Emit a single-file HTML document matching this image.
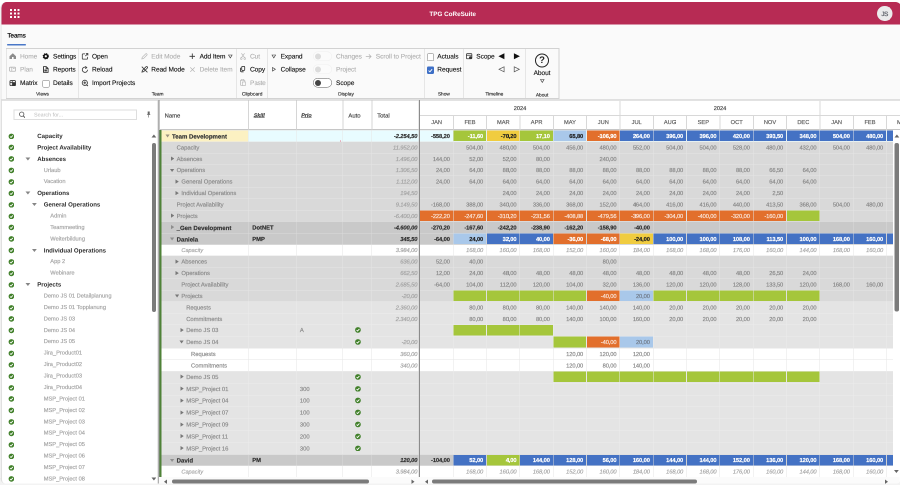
<!DOCTYPE html><html><head><meta charset="utf-8"><title>TPG CoReSuite</title><style>
*{box-sizing:border-box;margin:0;padding:0}
html,body{width:900px;height:485px;overflow:hidden;background:#fff}
body{text-rendering:geometricPrecision;font-family:"Liberation Sans",sans-serif;position:relative;color:#333;font-size:6.2px;line-height:1}
#all{position:absolute;left:0;top:0;width:1800px;height:970px;overflow:hidden;transform:scale(.5);transform-origin:0 0;will-change:transform;background:#fff}
#in{position:absolute;left:0;top:0;width:900px;height:485px;zoom:2;filter:blur(.25px)}
.abs{position:absolute}
.t{position:absolute;white-space:nowrap;line-height:10px;height:10px}
#win{position:absolute;left:.4px;top:2px;width:901px;height:481.7px;background:#fafafa;border-radius:6px 6px 5px 5px;overflow:hidden;border-left:1px solid #e2e2e2}
#hdr{position:absolute;left:-.2px;top:0;width:906px;height:22.5px;background:#b72b54}
.rb{position:absolute;top:48.2px;height:51px;border:1px solid #d2d2d2;border-left:none;background:#fafafa}
.rt{font-size:6.55px;color:#111;letter-spacing:-0.05px;-webkit-text-stroke:.12px #111}
.rt.dis{color:#b0b0b0;-webkit-text-stroke:.1px #b0b0b0}
.rl{font-size:4.8px;color:#222;text-align:center;-webkit-text-stroke:.12px #222}
.panel{position:absolute;background:#fff}
.tree{font-size:5.7px;color:#a4a4a4;-webkit-text-stroke:.16px currentColor}
.tree.b{font-weight:bold;color:#2e2e2e;font-size:6.1px;-webkit-text-stroke:0}
.row{position:absolute;left:0;width:100%}
.c{position:absolute;top:0;height:100%;border-right:.5px solid rgba(255,255,255,.3);border-top:.6px solid rgba(255,255,255,.36)}
.f{position:absolute;left:.1px;top:0;right:0;bottom:.3px}
.w .c{border-right:.5px solid #e6e6e6;border-top:.5px solid #e6e6e6}
.n{position:absolute;right:3.0px;top:.4px;white-space:nowrap;font-size:5.75px;letter-spacing:-.1px;color:#878787;-webkit-text-stroke:.16px currentColor}
.nm{position:absolute;top:.4px;white-space:nowrap;font-size:5.85px;color:#8a8a8a;-webkit-text-stroke:.16px currentColor}
.b{font-weight:bold}
.i{font-style:italic}
.hd{position:absolute;white-space:nowrap;font-size:5.7px;color:#444;-webkit-text-stroke:.16px currentColor}
</style></head><body>
<div id="all"><div id="in">
<div class="abs" style="left:0;top:478px;width:900px;height:7px;background:#f3f3f3"></div>
<div id="win">
<div id="hdr"></div>
</div>
<div class="abs" style="left:10.20px;top:9.10px;width:2px;height:2px;background:#fff;border-radius:.3px"></div>
<div class="abs" style="left:13.75px;top:9.10px;width:2px;height:2px;background:#fff;border-radius:.3px"></div>
<div class="abs" style="left:17.30px;top:9.10px;width:2px;height:2px;background:#fff;border-radius:.3px"></div>
<div class="abs" style="left:10.20px;top:12.60px;width:2px;height:2px;background:#fff;border-radius:.3px"></div>
<div class="abs" style="left:13.75px;top:12.60px;width:2px;height:2px;background:#fff;border-radius:.3px"></div>
<div class="abs" style="left:17.30px;top:12.60px;width:2px;height:2px;background:#fff;border-radius:.3px"></div>
<div class="abs" style="left:10.20px;top:16.10px;width:2px;height:2px;background:#fff;border-radius:.3px"></div>
<div class="abs" style="left:13.75px;top:16.10px;width:2px;height:2px;background:#fff;border-radius:.3px"></div>
<div class="abs" style="left:17.30px;top:16.10px;width:2px;height:2px;background:#fff;border-radius:.3px"></div>
<div class="t b" style="left:380px;width:145.4px;text-align:center;top:9.0px;color:#fff;font-size:6.3px">TPG CoReSuite</div>
<div class="abs" style="left:877px;top:5.8px;width:15.4px;height:15.4px;border-radius:50%;background:#ebebeb"></div>
<div class="t" style="left:877px;width:15.4px;text-align:center;top:8.9px;color:#5a5e66;font-size:6.3px;letter-spacing:-.35px;-webkit-text-stroke:.2px #5a5e66">JS</div>
<div class="t" style="left:7.4px;top:30.6px;font-size:6.35px;color:#111;letter-spacing:-0.08px;-webkit-text-stroke:.24px #111">Teams</div>
<div class="abs" style="left:7px;top:44.2px;width:18.8px;height:1.5px;background:#4a78c8;border-radius:1px"></div>
<div class="abs" style="left:6px;top:48.2px;width:1px;height:51px;background:#d2d2d2"></div>
<div class="rb" style="left:6.40px;width:72.70px"></div>
<div class="t rl" style="left:6.40px;width:72.20px;top:89.40px">Views</div>
<div class="rb" style="left:78.60px;width:158.60px"></div>
<div class="t rl" style="left:78.60px;width:158.10px;top:89.40px">Team</div>
<div class="rb" style="left:236.70px;width:31.40px"></div>
<div class="t rl" style="left:236.70px;width:30.90px;top:89.40px">Clipboard</div>
<div class="rb" style="left:267.60px;width:157.30px"></div>
<div class="t rl" style="left:267.60px;width:156.80px;top:89.40px">Display</div>
<div class="rb" style="left:424.40px;width:39.40px"></div>
<div class="t rl" style="left:424.40px;width:38.90px;top:89.40px">Show</div>
<div class="rb" style="left:463.30px;width:62.60px"></div>
<div class="t rl" style="left:463.30px;width:62.10px;top:89.40px">Timeline</div>
<div class="rb" style="left:525.40px;width:33.90px"></div>
<div class="t rl" style="left:525.40px;width:33.40px;top:90.30px">About</div>
<svg class="abs" style="left:9.50px;top:53.00px;" width="6.6" height="6" viewBox="0 0 6.6 6"><path d="M0 3.3L3.3 .2l3.3 3.1v2.7H4.1V4H2.5v2H0z" fill="#8c8c8c"/></svg>
<div class="t rt dis" style="left:20.00px;top:51.50px;">Home</div>
<svg class="abs" style="left:9.20px;top:66.60px;" width="7" height="5.4" viewBox="0 0 8 5.6"><rect x=".5" y=".5" width="7" height="4.6" rx="1" fill="none" stroke="#b5b5b5" stroke-width=".9"/><path d="M3.2.5v4.6M4.6 2h1.8" stroke="#b5b5b5" stroke-width=".8"/></svg>
<div class="t rt dis" style="left:20.00px;top:64.60px;">Plan</div>
<svg class="abs" style="left:9.60px;top:79.80px;" width="6.6" height="6.4" viewBox="0 0 7.2 6.8"><rect x=".5" y=".5" width="6" height="5.6" rx="1" fill="none" stroke="#333" stroke-width=".9"/><path d="M.5 2.6h6M3 .5v5.6" stroke="#333" stroke-width=".8"/><rect x="3.4" y="3" width="3.4" height="3.2" fill="#333"/></svg>
<div class="t rt" style="left:20.00px;top:78.10px;">Matrix</div>
<svg class="abs" style="left:42.60px;top:53.00px;" width="6.6" height="6.6" viewBox="0 0 8 8"><circle cx="4" cy="4" r="2.3" fill="none" stroke="#111" stroke-width="1.9"/><circle cx="4" cy="4" r="3.3" fill="none" stroke="#111" stroke-width="1.1" stroke-dasharray="1.3 1.3"/></svg>
<div class="t rt" style="left:53.00px;top:51.50px;">Settings</div>
<svg class="abs" style="left:43.20px;top:66.00px;" width="5.6" height="7" viewBox="0 0 6.6 8"><path d="M.6.6h3.2l2.2 2.2v4.6H.6z" fill="none" stroke="#222" stroke-width="1"/><path d="M3.6.6v2.4h2.4" fill="none" stroke="#222" stroke-width=".8"/><rect x="1.6" y="4" width="3" height="2.4" fill="#444"/></svg>
<div class="t rt" style="left:53.00px;top:64.60px;">Reports</div>
<div class="abs" style="left:42.4px;top:80.0px;width:7.2px;height:7.4px;border:.8px solid #707070;border-radius:1.2px;background:#fff"></div>
<div class="t rt" style="left:53.00px;top:78.10px;">Details</div>
<svg class="abs" style="left:81.60px;top:53.00px;" width="7" height="6.8" viewBox="0 0 8 8"><path d="M4 1H1.6a.8.8 0 0 0-.8.8v4.6a.8.8 0 0 0 .8.8h4.6a.8.8 0 0 0 .8-.8V4.6" fill="none" stroke="#333" stroke-width=".9"/><path d="M5 .6h2.4V3M7.2.8L4.4 3.6" fill="none" stroke="#333" stroke-width=".9"/></svg>
<div class="t rt" style="left:92.00px;top:51.50px;">Open</div>
<svg class="abs" style="left:81.50px;top:65.80px;" width="7" height="7.2" viewBox="0 0 8 8"><path d="M6.9 4.2A3 3 0 1 1 5.6 1.7" fill="none" stroke="#333" stroke-width=".9"/><path d="M4.4.2l1.7 1.6-1.9 1.1" fill="none" stroke="#333" stroke-width=".85"/></svg>
<div class="t rt" style="left:92.00px;top:64.60px;">Reload</div>
<svg class="abs" style="left:81.60px;top:79.40px;" width="7" height="7" viewBox="0 0 8 8"><circle cx="3.8" cy="3.8" r="3" fill="none" stroke="#333" stroke-width=".9"/><path d="M3.8 2.2v3.2M2.2 3.8h3.2" stroke="#333" stroke-width=".9"/><path d="M5.6 6l1.8 1.4" stroke="#333" stroke-width="1"/></svg>
<div class="t rt" style="left:92.00px;top:78.10px;">Import Projects</div>
<svg class="abs" style="left:141.20px;top:52.80px;" width="6.6" height="7" viewBox="0 0 8 8"><path d="M1 7l.5-2L5.7.8a.8.8 0 0 1 1.2 0l.3.3a.8.8 0 0 1 0 1.2L3 6.5z" fill="none" stroke="#b5b5b5" stroke-width=".8"/></svg>
<div class="t rt dis" style="left:151.30px;top:51.50px;">Edit Mode</div>
<svg class="abs" style="left:141.00px;top:66.00px;" width="7.2" height="7" viewBox="0 0 8 8"><path d="M1 7l.5-2L5.7.8a.8.8 0 0 1 1.2 0l.3.3a.8.8 0 0 1 0 1.2L3 6.5z" fill="none" stroke="#333" stroke-width=".9"/><path d="M.8.8l6.4 6.4" stroke="#333" stroke-width=".9"/></svg>
<div class="t rt" style="left:151.30px;top:64.60px;">Read Mode</div>
<svg class="abs" style="left:189.60px;top:53.40px;" width="5.6" height="5.6" viewBox="0 0 6 6"><path d="M3 0v6M0 3h6" stroke="#333" stroke-width=".9"/></svg>
<div class="t rt" style="left:199.60px;top:51.50px;">Add Item</div>
<svg class="abs" style="left:228.20px;top:54.70px;" width="4.6" height="3.9" viewBox="0 0 4.6 3.9"><path d="M.5.5h3.6L2.3 3.4z" fill="none" stroke="#333" stroke-width=".6"/></svg>
<svg class="abs" style="left:190.00px;top:66.80px;" width="5" height="5.2" viewBox="0 0 6 6"><path d="M.3.3l5.4 5.4M5.7.3L.3 5.7" stroke="#b5b5b5" stroke-width=".8"/></svg>
<div class="t rt dis" style="left:199.60px;top:64.60px;">Delete Item</div>
<svg class="abs" style="left:240.00px;top:52.80px;" width="6" height="7" viewBox="0 0 6.8 8"><path d="M1.6.4l3.6 5M5.2.4L1.6 5.4" stroke="#b5b5b5" stroke-width=".8"/><circle cx="1.4" cy="6.4" r="1" fill="none" stroke="#b5b5b5" stroke-width=".7"/><circle cx="5.4" cy="6.4" r="1" fill="none" stroke="#b5b5b5" stroke-width=".7"/></svg>
<div class="t rt dis" style="left:250.00px;top:51.50px;">Cut</div>
<svg class="abs" style="left:240.20px;top:66.20px;" width="5.2" height="6.2" viewBox="0 0 5.2 6.4"><rect x="1.7" y=".4" width="3.1" height="4.2" rx=".8" fill="none" stroke="#222" stroke-width=".8"/><path d="M.5 1.8v3.4a.8.8 0 0 0 .8.8H3.6" fill="none" stroke="#222" stroke-width=".8"/></svg>
<div class="t rt" style="left:250.00px;top:64.60px;">Copy</div>
<svg class="abs" style="left:240.00px;top:79.20px;" width="6" height="7" viewBox="0 0 6.8 8"><rect x=".5" y="1.2" width="5" height="6" rx=".7" fill="none" stroke="#b5b5b5" stroke-width=".8"/><rect x="1.8" y=".3" width="2.4" height="1.6" fill="#fafafa" stroke="#b5b5b5" stroke-width=".6"/><rect x="2.6" y="3.4" width="3.6" height="4" fill="#fafafa" stroke="#b5b5b5" stroke-width=".7"/></svg>
<div class="t rt dis" style="left:250.00px;top:78.10px;letter-spacing:-.25px">Paste</div>
<svg class="abs" style="left:271.40px;top:54.50px;" width="4.6" height="3.9" viewBox="0 0 4.6 3.9"><path d="M.5.5h3.6L2.3 3.4z" fill="none" stroke="#333" stroke-width=".6"/></svg>
<div class="t rt" style="left:280.60px;top:51.50px;">Expand</div>
<svg class="abs" style="left:272.00px;top:67.00px;" width="3.9" height="4.6" viewBox="0 0 3.9 4.6"><path d="M.5.5v3.6L3.4 2.3z" fill="none" stroke="#333" stroke-width=".6"/></svg>
<div class="t rt" style="left:280.60px;top:64.60px;">Collapse</div>
<div class="abs" style="left:313.2px;top:51.70px;width:18.6px;height:9.4px;border-radius:5px;border:.9px solid #f0f0f0;background:#fbfbfb"></div>
<div class="abs" style="left:315.2px;top:53.40px;width:6px;height:6px;border-radius:50%;background:#dcdcdc"></div>
<div class="abs" style="left:313.2px;top:64.70px;width:18.6px;height:9.4px;border-radius:5px;border:.9px solid #f0f0f0;background:#fbfbfb"></div>
<div class="abs" style="left:315.2px;top:66.40px;width:6px;height:6px;border-radius:50%;background:#dcdcdc"></div>
<div class="abs" style="left:313.2px;top:78.10px;width:18.6px;height:9.4px;border-radius:5px;border:.9px solid #555;background:#fff"></div>
<div class="abs" style="left:315.2px;top:79.80px;width:6px;height:6px;border-radius:50%;background:#444"></div>
<div class="t rt dis" style="left:336.00px;top:51.50px;">Changes</div>
<div class="t rt dis" style="left:336.00px;top:64.60px;">Project</div>
<div class="t rt" style="left:336.00px;top:78.10px;">Scope</div>
<svg class="abs" style="left:365.60px;top:53.80px;" width="6" height="5" viewBox="0 0 6 5"><path d="M.3 2.5h5.2M3.4.4l2.2 2.1-2.2 2.1" fill="none" stroke="#b5b5b5" stroke-width=".8"/></svg>
<div class="t rt dis" style="left:375.80px;top:51.50px;">Scroll to Project</div>
<div class="abs" style="left:426.8px;top:53.4px;width:7.4px;height:7.6px;border:.8px solid #707070;border-radius:1.2px;background:#fff"></div>
<div class="t rt" style="left:437.30px;top:51.50px;">Actuals</div>
<div class="abs" style="left:426.8px;top:66.6px;width:7.4px;height:7.6px;border-radius:1.2px;background:#3d6fc6"></div>
<svg class="abs" style="left:428.20px;top:68.40px;" width="4.8" height="4" viewBox="0 0 5 4.2"><path d="M.6 2.2l1.4 1.3L4.3.7" fill="none" stroke="#fff" stroke-width=".9"/></svg>
<div class="t rt" style="left:437.30px;top:64.60px;">Request</div>
<svg class="abs" style="left:466.20px;top:53.00px;" width="6.8" height="6.8" viewBox="0 0 8 8"><rect x=".5" y=".8" width="6.4" height="6" rx=".8" fill="none" stroke="#333" stroke-width=".9"/><path d="M.5 2.6h6.4" stroke="#333" stroke-width=".9"/><circle cx="5.2" cy="5.4" r="1.6" fill="#333"/></svg>
<div class="t rt" style="left:476.30px;top:51.50px;">Scope</div>
<svg class="abs" style="left:498.20px;top:53.20px;" width="6.8" height="6.6" viewBox="0 0 6.8 6.6"><path d="M6.4.3v6L.4 3.3z" fill="#111"/></svg>
<svg class="abs" style="left:513.40px;top:53.20px;" width="6.8" height="6.6" viewBox="0 0 6.8 6.6"><path d="M.4.3v6l6-3z" fill="#111"/></svg>
<svg class="abs" style="left:498.20px;top:66.20px;" width="6.8" height="6.6" viewBox="0 0 6.8 6.6"><path d="M6.1.8v5L1 3.3z" fill="none" stroke="#555" stroke-width=".7"/></svg>
<svg class="abs" style="left:513.40px;top:66.20px;" width="6.8" height="6.6" viewBox="0 0 6.8 6.6"><path d="M.7.8v5l5.1-2.5z" fill="none" stroke="#555" stroke-width=".7"/></svg>
<div class="abs" style="left:535px;top:53.3px;width:14px;height:14px;border-radius:50%;border:1.1px solid #222"></div>
<div class="t" style="left:535px;width:14px;text-align:center;top:55.3px;font-size:9.5px;color:#222;font-weight:bold">?</div>
<div class="t rt" style="left:527px;width:30px;text-align:center;top:68.2px">About</div>
<svg class="abs" style="left:539.80px;top:79.20px;" width="4.6" height="3.9" viewBox="0 0 4.6 3.9"><path d="M.5.5h3.6L2.3 3.4z" fill="none" stroke="#333" stroke-width=".6"/></svg>
<div class="panel" style="left:1px;top:99.6px;width:156.4px;height:384.1px;border-top:1px solid #c6c6c6;border-left:1px solid #e0e0e0;border-radius:0 0 0 4px"></div>
<div class="abs" style="left:13.6px;top:109.6px;width:123.4px;height:10.2px;border:1px solid #dedede;background:#fff"></div>
<svg class="abs" style="left:18.80px;top:111.40px;" width="6.4" height="6.6" viewBox="0 0 6.4 6.6"><circle cx="2.7" cy="2.7" r="2.2" fill="none" stroke="#555" stroke-width=".8"/><path d="M4.3 4.4l1.8 1.9" stroke="#555" stroke-width=".9"/></svg>
<div class="t" style="left:34px;top:109.8px;font-size:5.4px;color:#bdbdbd">Search for...</div>
<svg class="abs" style="left:146.60px;top:110.80px;" width="4.4" height="6.8" viewBox="0 0 4.4 6.8"><path d="M1.2.5h2v2.4l.9 1H.3l.9-1z" fill="#666"/><path d="M2.2 3.9v2.6" stroke="#666" stroke-width=".6"/></svg>
<svg class="abs" style="left:8.30px;top:133.30px;" width="5.8" height="5.8" viewBox="0 0 6 6"><circle cx="3" cy="3" r="2.9" fill="#41802a"/><path d="M1.6 3.1l1 1L4.5 2" fill="none" stroke="#fff" stroke-width=".9"/></svg>
<div class="t tree b" style="left:37.20px;top:131.00px">Capacity</div>
<svg class="abs" style="left:8.30px;top:144.73px;" width="5.8" height="5.8" viewBox="0 0 6 6"><circle cx="3" cy="3" r="2.9" fill="#41802a"/><path d="M1.6 3.1l1 1L4.5 2" fill="none" stroke="#fff" stroke-width=".9"/></svg>
<div class="t tree b" style="left:37.20px;top:142.43px">Project Availability</div>
<svg class="abs" style="left:8.30px;top:156.16px;" width="5.8" height="5.8" viewBox="0 0 6 6"><circle cx="3" cy="3" r="2.9" fill="#41802a"/><path d="M1.6 3.1l1 1L4.5 2" fill="none" stroke="#fff" stroke-width=".9"/></svg>
<svg class="abs" style="left:25.60px;top:157.36px;" width="4.8" height="3" viewBox="0 0 4.8 3"><path d="M0 0h4.8L2.4 3z" fill="#858585"/></svg>
<div class="t tree b" style="left:37.20px;top:153.86px">Absences</div>
<svg class="abs" style="left:8.30px;top:167.59px;" width="5.8" height="5.8" viewBox="0 0 6 6"><circle cx="3" cy="3" r="2.9" fill="#41802a"/><path d="M1.6 3.1l1 1L4.5 2" fill="none" stroke="#fff" stroke-width=".9"/></svg>
<div class="t tree" style="left:43.75px;top:165.29px">Urlaub</div>
<svg class="abs" style="left:8.30px;top:179.02px;" width="5.8" height="5.8" viewBox="0 0 6 6"><circle cx="3" cy="3" r="2.9" fill="#41802a"/><path d="M1.6 3.1l1 1L4.5 2" fill="none" stroke="#fff" stroke-width=".9"/></svg>
<div class="t tree" style="left:43.75px;top:176.72px">Vacation</div>
<svg class="abs" style="left:8.30px;top:190.45px;" width="5.8" height="5.8" viewBox="0 0 6 6"><circle cx="3" cy="3" r="2.9" fill="#41802a"/><path d="M1.6 3.1l1 1L4.5 2" fill="none" stroke="#fff" stroke-width=".9"/></svg>
<svg class="abs" style="left:25.60px;top:191.65px;" width="4.8" height="3" viewBox="0 0 4.8 3"><path d="M0 0h4.8L2.4 3z" fill="#858585"/></svg>
<div class="t tree b" style="left:37.20px;top:188.15px">Operations</div>
<svg class="abs" style="left:8.30px;top:201.88px;" width="5.8" height="5.8" viewBox="0 0 6 6"><circle cx="3" cy="3" r="2.9" fill="#41802a"/><path d="M1.6 3.1l1 1L4.5 2" fill="none" stroke="#fff" stroke-width=".9"/></svg>
<svg class="abs" style="left:32.15px;top:203.08px;" width="4.8" height="3" viewBox="0 0 4.8 3"><path d="M0 0h4.8L2.4 3z" fill="#858585"/></svg>
<div class="t tree b" style="left:43.75px;top:199.58px">General Operations</div>
<svg class="abs" style="left:8.30px;top:213.31px;" width="5.8" height="5.8" viewBox="0 0 6 6"><circle cx="3" cy="3" r="2.9" fill="#41802a"/><path d="M1.6 3.1l1 1L4.5 2" fill="none" stroke="#fff" stroke-width=".9"/></svg>
<div class="t tree" style="left:50.30px;top:211.01px">Admin</div>
<svg class="abs" style="left:8.30px;top:224.74px;" width="5.8" height="5.8" viewBox="0 0 6 6"><circle cx="3" cy="3" r="2.9" fill="#41802a"/><path d="M1.6 3.1l1 1L4.5 2" fill="none" stroke="#fff" stroke-width=".9"/></svg>
<div class="t tree" style="left:50.30px;top:222.44px">Teammeeting</div>
<svg class="abs" style="left:8.30px;top:236.17px;" width="5.8" height="5.8" viewBox="0 0 6 6"><circle cx="3" cy="3" r="2.9" fill="#41802a"/><path d="M1.6 3.1l1 1L4.5 2" fill="none" stroke="#fff" stroke-width=".9"/></svg>
<div class="t tree" style="left:50.30px;top:233.87px">Weiterbildung</div>
<svg class="abs" style="left:8.30px;top:247.60px;" width="5.8" height="5.8" viewBox="0 0 6 6"><circle cx="3" cy="3" r="2.9" fill="#41802a"/><path d="M1.6 3.1l1 1L4.5 2" fill="none" stroke="#fff" stroke-width=".9"/></svg>
<svg class="abs" style="left:32.15px;top:248.80px;" width="4.8" height="3" viewBox="0 0 4.8 3"><path d="M0 0h4.8L2.4 3z" fill="#858585"/></svg>
<div class="t tree b" style="left:43.75px;top:245.30px">Individual Operations</div>
<svg class="abs" style="left:8.30px;top:259.03px;" width="5.8" height="5.8" viewBox="0 0 6 6"><circle cx="3" cy="3" r="2.9" fill="#41802a"/><path d="M1.6 3.1l1 1L4.5 2" fill="none" stroke="#fff" stroke-width=".9"/></svg>
<div class="t tree" style="left:50.30px;top:256.73px">App 2</div>
<svg class="abs" style="left:8.30px;top:270.46px;" width="5.8" height="5.8" viewBox="0 0 6 6"><circle cx="3" cy="3" r="2.9" fill="#41802a"/><path d="M1.6 3.1l1 1L4.5 2" fill="none" stroke="#fff" stroke-width=".9"/></svg>
<div class="t tree" style="left:50.30px;top:268.16px">Webinare</div>
<svg class="abs" style="left:8.30px;top:281.89px;" width="5.8" height="5.8" viewBox="0 0 6 6"><circle cx="3" cy="3" r="2.9" fill="#41802a"/><path d="M1.6 3.1l1 1L4.5 2" fill="none" stroke="#fff" stroke-width=".9"/></svg>
<svg class="abs" style="left:25.60px;top:283.09px;" width="4.8" height="3" viewBox="0 0 4.8 3"><path d="M0 0h4.8L2.4 3z" fill="#858585"/></svg>
<div class="t tree b" style="left:37.20px;top:279.59px">Projects</div>
<svg class="abs" style="left:8.30px;top:293.32px;" width="5.8" height="5.8" viewBox="0 0 6 6"><circle cx="3" cy="3" r="2.9" fill="#41802a"/><path d="M1.6 3.1l1 1L4.5 2" fill="none" stroke="#fff" stroke-width=".9"/></svg>
<div class="t tree" style="left:43.75px;top:291.02px">Demo JS 01 Detailplanung</div>
<svg class="abs" style="left:8.30px;top:304.75px;" width="5.8" height="5.8" viewBox="0 0 6 6"><circle cx="3" cy="3" r="2.9" fill="#41802a"/><path d="M1.6 3.1l1 1L4.5 2" fill="none" stroke="#fff" stroke-width=".9"/></svg>
<div class="t tree" style="left:43.75px;top:302.45px">Demo JS 01 Topplanung</div>
<svg class="abs" style="left:8.30px;top:316.18px;" width="5.8" height="5.8" viewBox="0 0 6 6"><circle cx="3" cy="3" r="2.9" fill="#41802a"/><path d="M1.6 3.1l1 1L4.5 2" fill="none" stroke="#fff" stroke-width=".9"/></svg>
<div class="t tree" style="left:43.75px;top:313.88px">Demo JS 03</div>
<svg class="abs" style="left:8.30px;top:327.61px;" width="5.8" height="5.8" viewBox="0 0 6 6"><circle cx="3" cy="3" r="2.9" fill="#41802a"/><path d="M1.6 3.1l1 1L4.5 2" fill="none" stroke="#fff" stroke-width=".9"/></svg>
<div class="t tree" style="left:43.75px;top:325.31px">Demo JS 04</div>
<svg class="abs" style="left:8.30px;top:339.04px;" width="5.8" height="5.8" viewBox="0 0 6 6"><circle cx="3" cy="3" r="2.9" fill="#41802a"/><path d="M1.6 3.1l1 1L4.5 2" fill="none" stroke="#fff" stroke-width=".9"/></svg>
<div class="t tree" style="left:43.75px;top:336.74px">Demo JS 05</div>
<svg class="abs" style="left:8.30px;top:350.47px;" width="5.8" height="5.8" viewBox="0 0 6 6"><circle cx="3" cy="3" r="2.9" fill="#41802a"/><path d="M1.6 3.1l1 1L4.5 2" fill="none" stroke="#fff" stroke-width=".9"/></svg>
<div class="t tree" style="left:43.75px;top:348.17px">Jira_Product01</div>
<svg class="abs" style="left:8.30px;top:361.90px;" width="5.8" height="5.8" viewBox="0 0 6 6"><circle cx="3" cy="3" r="2.9" fill="#41802a"/><path d="M1.6 3.1l1 1L4.5 2" fill="none" stroke="#fff" stroke-width=".9"/></svg>
<div class="t tree" style="left:43.75px;top:359.60px">Jira_Product02</div>
<svg class="abs" style="left:8.30px;top:373.33px;" width="5.8" height="5.8" viewBox="0 0 6 6"><circle cx="3" cy="3" r="2.9" fill="#41802a"/><path d="M1.6 3.1l1 1L4.5 2" fill="none" stroke="#fff" stroke-width=".9"/></svg>
<div class="t tree" style="left:43.75px;top:371.03px">Jira_Product03</div>
<svg class="abs" style="left:8.30px;top:384.76px;" width="5.8" height="5.8" viewBox="0 0 6 6"><circle cx="3" cy="3" r="2.9" fill="#41802a"/><path d="M1.6 3.1l1 1L4.5 2" fill="none" stroke="#fff" stroke-width=".9"/></svg>
<div class="t tree" style="left:43.75px;top:382.46px">Jira_Product04</div>
<svg class="abs" style="left:8.30px;top:396.19px;" width="5.8" height="5.8" viewBox="0 0 6 6"><circle cx="3" cy="3" r="2.9" fill="#41802a"/><path d="M1.6 3.1l1 1L4.5 2" fill="none" stroke="#fff" stroke-width=".9"/></svg>
<div class="t tree" style="left:43.75px;top:393.89px">MSP_Project 01</div>
<svg class="abs" style="left:8.30px;top:407.62px;" width="5.8" height="5.8" viewBox="0 0 6 6"><circle cx="3" cy="3" r="2.9" fill="#41802a"/><path d="M1.6 3.1l1 1L4.5 2" fill="none" stroke="#fff" stroke-width=".9"/></svg>
<div class="t tree" style="left:43.75px;top:405.32px">MSP_Project 02</div>
<svg class="abs" style="left:8.30px;top:419.05px;" width="5.8" height="5.8" viewBox="0 0 6 6"><circle cx="3" cy="3" r="2.9" fill="#41802a"/><path d="M1.6 3.1l1 1L4.5 2" fill="none" stroke="#fff" stroke-width=".9"/></svg>
<div class="t tree" style="left:43.75px;top:416.75px">MSP_Project 03</div>
<svg class="abs" style="left:8.30px;top:430.48px;" width="5.8" height="5.8" viewBox="0 0 6 6"><circle cx="3" cy="3" r="2.9" fill="#41802a"/><path d="M1.6 3.1l1 1L4.5 2" fill="none" stroke="#fff" stroke-width=".9"/></svg>
<div class="t tree" style="left:43.75px;top:428.18px">MSP_Project 04</div>
<svg class="abs" style="left:8.30px;top:441.91px;" width="5.8" height="5.8" viewBox="0 0 6 6"><circle cx="3" cy="3" r="2.9" fill="#41802a"/><path d="M1.6 3.1l1 1L4.5 2" fill="none" stroke="#fff" stroke-width=".9"/></svg>
<div class="t tree" style="left:43.75px;top:439.61px">MSP_Project 05</div>
<svg class="abs" style="left:8.30px;top:453.34px;" width="5.8" height="5.8" viewBox="0 0 6 6"><circle cx="3" cy="3" r="2.9" fill="#41802a"/><path d="M1.6 3.1l1 1L4.5 2" fill="none" stroke="#fff" stroke-width=".9"/></svg>
<div class="t tree" style="left:43.75px;top:451.04px">MSP_Project 06</div>
<svg class="abs" style="left:8.30px;top:464.77px;" width="5.8" height="5.8" viewBox="0 0 6 6"><circle cx="3" cy="3" r="2.9" fill="#41802a"/><path d="M1.6 3.1l1 1L4.5 2" fill="none" stroke="#fff" stroke-width=".9"/></svg>
<div class="t tree" style="left:43.75px;top:462.47px">MSP_Project 07</div>
<svg class="abs" style="left:8.30px;top:476.20px;" width="5.8" height="5.8" viewBox="0 0 6 6"><circle cx="3" cy="3" r="2.9" fill="#41802a"/><path d="M1.6 3.1l1 1L4.5 2" fill="none" stroke="#fff" stroke-width=".9"/></svg>
<div class="t tree" style="left:43.75px;top:473.90px">MSP_Project 08</div>
<svg class="abs" style="left:151.60px;top:134.60px;" width="4.8" height="3" viewBox="0 0 4.8 3"><path d="M0 3h4.8L2.4 0z" fill="#666"/></svg>
<div class="abs" style="left:152.2px;top:143.2px;width:3.8px;height:168.6px;border-radius:2px;background:#7b7b7b"></div>
<svg class="abs" style="left:151.40px;top:477.30px;" width="4.8" height="3" viewBox="0 0 4.8 3"><path d="M0 0h4.8L2.4 3z" fill="#666"/></svg>
<div class="panel" style="left:157.20px;top:99.6px;width:742.80px;height:384.1px;border-top:1px solid #c6c6c6;border-radius:0 0 4px 0"></div>
<div class="abs" style="left:157.3px;top:100.2px;width:1.1px;height:383.5px;background:#d2d2d2"></div>
<div class="abs" style="left:158.3px;top:100.2px;width:1px;height:383.5px;background:#8c8c8c"></div>
<div class="abs" style="left:159.7px;top:130px;width:1.7px;height:347.2px;background:#4f8238"></div>
<div class="abs" style="left:159.2px;top:129.1px;width:741px;height:1px;background:#c6c6c6"></div>
<div class="abs" style="left:248.20px;top:100.6px;width:1px;height:28.8px;background:#d6d6d6"></div>
<div class="abs" style="left:295.80px;top:100.6px;width:1px;height:28.8px;background:#d6d6d6"></div>
<div class="abs" style="left:342.70px;top:100.6px;width:1px;height:28.8px;background:#d6d6d6"></div>
<div class="abs" style="left:371.60px;top:100.6px;width:1px;height:28.8px;background:#d6d6d6"></div>
<div class="hd" style="left:164.6px;top:113.0px;font-size:5.9px">Name</div>
<div class="hd b i" style="left:253.6px;top:113.0px;text-decoration:underline;font-size:5.4px;color:#444">Skill</div>
<div class="hd b i" style="left:301.2px;top:113.0px;text-decoration:underline;font-size:5.4px;color:#444">Prio</div>
<div class="hd" style="left:348.4px;top:113.0px;font-size:5.9px">Auto</div>
<div class="hd" style="left:377.2px;top:113.0px;font-size:5.9px">Total</div>
<div class="abs" style="left:420px;top:115px;width:480px;height:1px;background:#d8d8d8"></div>
<div class="abs" style="left:452.83px;top:115.40px;width:1px;height:14.00px;background:#d8d8d8"></div>
<div class="abs" style="left:486.17px;top:115.40px;width:1px;height:14.00px;background:#d8d8d8"></div>
<div class="abs" style="left:519.50px;top:115.40px;width:1px;height:14.00px;background:#d8d8d8"></div>
<div class="abs" style="left:552.83px;top:115.40px;width:1px;height:14.00px;background:#d8d8d8"></div>
<div class="abs" style="left:586.17px;top:115.40px;width:1px;height:14.00px;background:#d8d8d8"></div>
<div class="abs" style="left:619.50px;top:100.60px;width:1px;height:28.80px;background:#d8d8d8"></div>
<div class="abs" style="left:652.83px;top:115.40px;width:1px;height:14.00px;background:#d8d8d8"></div>
<div class="abs" style="left:686.17px;top:115.40px;width:1px;height:14.00px;background:#d8d8d8"></div>
<div class="abs" style="left:719.50px;top:115.40px;width:1px;height:14.00px;background:#d8d8d8"></div>
<div class="abs" style="left:752.83px;top:115.40px;width:1px;height:14.00px;background:#d8d8d8"></div>
<div class="abs" style="left:786.17px;top:115.40px;width:1px;height:14.00px;background:#d8d8d8"></div>
<div class="abs" style="left:819.50px;top:100.60px;width:1px;height:28.80px;background:#d8d8d8"></div>
<div class="abs" style="left:852.83px;top:115.40px;width:1px;height:14.00px;background:#d8d8d8"></div>
<div class="abs" style="left:886.17px;top:115.40px;width:1px;height:14.00px;background:#d8d8d8"></div>
<div class="hd" style="left:420px;width:200px;text-align:center;top:106.0px;font-size:5.6px">2024</div>
<div class="hd" style="left:620px;width:200px;text-align:center;top:106.0px;font-size:5.6px">2024</div>
<div class="hd" style="left:420.00px;width:33.33px;text-align:center;top:120.2px;font-size:5.7px;color:#5a5a5a">JAN</div>
<div class="hd" style="left:453.33px;width:33.33px;text-align:center;top:120.2px;font-size:5.7px;color:#5a5a5a">FEB</div>
<div class="hd" style="left:486.67px;width:33.33px;text-align:center;top:120.2px;font-size:5.7px;color:#5a5a5a">MAR</div>
<div class="hd" style="left:520.00px;width:33.33px;text-align:center;top:120.2px;font-size:5.7px;color:#5a5a5a">APR</div>
<div class="hd" style="left:553.33px;width:33.33px;text-align:center;top:120.2px;font-size:5.7px;color:#5a5a5a">MAY</div>
<div class="hd" style="left:586.67px;width:33.33px;text-align:center;top:120.2px;font-size:5.7px;color:#5a5a5a">JUN</div>
<div class="hd" style="left:620.00px;width:33.33px;text-align:center;top:120.2px;font-size:5.7px;color:#5a5a5a">JUL</div>
<div class="hd" style="left:653.33px;width:33.33px;text-align:center;top:120.2px;font-size:5.7px;color:#5a5a5a">AUG</div>
<div class="hd" style="left:686.67px;width:33.33px;text-align:center;top:120.2px;font-size:5.7px;color:#5a5a5a">SEP</div>
<div class="hd" style="left:720.00px;width:33.33px;text-align:center;top:120.2px;font-size:5.7px;color:#5a5a5a">OCT</div>
<div class="hd" style="left:753.33px;width:33.33px;text-align:center;top:120.2px;font-size:5.7px;color:#5a5a5a">NOV</div>
<div class="hd" style="left:786.67px;width:33.33px;text-align:center;top:120.2px;font-size:5.7px;color:#5a5a5a">DEC</div>
<div class="hd" style="left:820.00px;width:33.33px;text-align:center;top:120.2px;font-size:5.7px;color:#5a5a5a">JAN</div>
<div class="hd" style="left:853.33px;width:33.33px;text-align:center;top:120.2px;font-size:5.7px;color:#5a5a5a">FEB</div>
<div class="hd" style="left:886.67px;width:33.33px;text-align:center;top:120.2px;font-size:5.7px;color:#5a5a5a">MAR</div>
<div class="abs" style="left:161.50px;top:130px;width:731.50px;height:347.4px;overflow:hidden;font-size:5.8px">
<div class="row w" style="top:0.00px;height:11.43px;background:#e8fcff">
<div class="c" style="left:0;width:87.20px;background:#fcf1c2;">
<svg class="abs" style="left:4.00px;top:4.00px" width="4.2" height="3" viewBox="0 0 4.2 3"><path d="M0 0h4.2L2.1 3z" fill="#9a9280"/></svg>
<div class="nm b" style="left:10.50px;line-height:11.43px;color:#343434;font-size:6.05px;">Team Development</div>
</div>
<div class="c" style="left:87.20px;width:47.60px">
</div>
<div class="c" style="left:134.80px;width:46.90px">
</div>
<div class="c" style="left:181.70px;width:28.90px">
</div>
<div class="c" style="left:210.60px;width:46.50px;border-right:none">
<div class="n b i" style="right:1.3px;line-height:11.43px;color:#2e2e2e">-2.254,50</div>
</div>
<div class="c" style="left:258.50px;width:33.33px;">
<div class="n b" style="line-height:11.43px;color:#2e2e2e;">-558,20</div>
</div>
<div class="c" style="left:291.83px;width:33.33px;">
<div class="f" style="background:#a5c63b"></div>
<div class="n b" style="line-height:11.43px;color:#fff;">-11,60</div>
</div>
<div class="c" style="left:325.17px;width:33.33px;">
<div class="f" style="background:#f0cc40"></div>
<div class="n b" style="line-height:11.43px;color:#222;">-70,20</div>
</div>
<div class="c" style="left:358.50px;width:33.33px;">
<div class="f" style="background:#a5c63b"></div>
<div class="n b" style="line-height:11.43px;color:#fff;">17,10</div>
</div>
<div class="c" style="left:391.83px;width:33.33px;">
<div class="f" style="background:#a9c8ea"></div>
<div class="n b" style="line-height:11.43px;color:#222;">65,80</div>
</div>
<div class="c" style="left:425.17px;width:33.33px;">
<div class="f" style="background:#e26f2c"></div>
<div class="n b" style="line-height:11.43px;color:#fff;">-106,90</div>
</div>
<div class="c" style="left:458.50px;width:33.33px;">
<div class="f" style="background:#4472c4"></div>
<div class="n b" style="line-height:11.43px;color:#fff;">264,00</div>
</div>
<div class="c" style="left:491.83px;width:33.33px;">
<div class="f" style="background:#4472c4"></div>
<div class="n b" style="line-height:11.43px;color:#fff;">396,00</div>
</div>
<div class="c" style="left:525.17px;width:33.33px;">
<div class="f" style="background:#4472c4"></div>
<div class="n b" style="line-height:11.43px;color:#fff;">396,00</div>
</div>
<div class="c" style="left:558.50px;width:33.33px;">
<div class="f" style="background:#4472c4"></div>
<div class="n b" style="line-height:11.43px;color:#fff;">420,00</div>
</div>
<div class="c" style="left:591.83px;width:33.33px;">
<div class="f" style="background:#4472c4"></div>
<div class="n b" style="line-height:11.43px;color:#fff;">393,50</div>
</div>
<div class="c" style="left:625.17px;width:33.33px;">
<div class="f" style="background:#4472c4"></div>
<div class="n b" style="line-height:11.43px;color:#fff;">348,00</div>
</div>
<div class="c" style="left:658.50px;width:33.33px;">
<div class="f" style="background:#4472c4"></div>
<div class="n b" style="line-height:11.43px;color:#fff;">504,00</div>
</div>
<div class="c" style="left:691.83px;width:33.33px;">
<div class="f" style="background:#4472c4"></div>
<div class="n b" style="line-height:11.43px;color:#fff;">480,00</div>
</div>
<div class="c" style="left:725.17px;width:33.33px;">
<div class="f" style="background:#4472c4"></div>
</div>
</div>
<div class="row" style="top:11.43px;height:11.43px;background:#d9d9d9">
<div class="c" style="left:0;width:87.20px;">
<div class="nm" style="left:15.10px;line-height:11.43px;">Capacity</div>
</div>
<div class="c" style="left:87.20px;width:47.60px">
</div>
<div class="c" style="left:134.80px;width:46.90px">
</div>
<div class="c" style="left:181.70px;width:28.90px">
</div>
<div class="c" style="left:210.60px;width:46.50px;border-right:none">
<div class="n i" style="right:1.3px;line-height:11.43px;color:#a2a2a2">11.952,00</div>
</div>
<div class="c" style="left:258.50px;width:33.33px;">
</div>
<div class="c" style="left:291.83px;width:33.33px;">
<div class="n" style="line-height:11.43px;">504,00</div>
</div>
<div class="c" style="left:325.17px;width:33.33px;">
<div class="n" style="line-height:11.43px;">480,00</div>
</div>
<div class="c" style="left:358.50px;width:33.33px;">
<div class="n" style="line-height:11.43px;">504,00</div>
</div>
<div class="c" style="left:391.83px;width:33.33px;">
<div class="n" style="line-height:11.43px;">456,00</div>
</div>
<div class="c" style="left:425.17px;width:33.33px;">
<div class="n" style="line-height:11.43px;">480,00</div>
</div>
<div class="c" style="left:458.50px;width:33.33px;">
<div class="n" style="line-height:11.43px;">552,00</div>
</div>
<div class="c" style="left:491.83px;width:33.33px;">
<div class="n" style="line-height:11.43px;">504,00</div>
</div>
<div class="c" style="left:525.17px;width:33.33px;">
<div class="n" style="line-height:11.43px;">504,00</div>
</div>
<div class="c" style="left:558.50px;width:33.33px;">
<div class="n" style="line-height:11.43px;">528,00</div>
</div>
<div class="c" style="left:591.83px;width:33.33px;">
<div class="n" style="line-height:11.43px;">480,00</div>
</div>
<div class="c" style="left:625.17px;width:33.33px;">
<div class="n" style="line-height:11.43px;">432,00</div>
</div>
<div class="c" style="left:658.50px;width:33.33px;">
<div class="n" style="line-height:11.43px;">504,00</div>
</div>
<div class="c" style="left:691.83px;width:33.33px;">
<div class="n" style="line-height:11.43px;">480,00</div>
</div>
<div class="c" style="left:725.17px;width:33.33px;">
</div>
</div>
<div class="row" style="top:22.86px;height:11.43px;background:#d9d9d9">
<div class="c" style="left:0;width:87.20px;">
<svg class="abs" style="left:9.30px;top:3.20px" width="3.3" height="4.2" viewBox="0 0 3.3 4.2"><path d="M0 0v4.2L3.3 2.1z" fill="#787878"/></svg>
<div class="nm" style="left:15.10px;line-height:11.43px;">Absences</div>
</div>
<div class="c" style="left:87.20px;width:47.60px">
</div>
<div class="c" style="left:134.80px;width:46.90px">
</div>
<div class="c" style="left:181.70px;width:28.90px">
</div>
<div class="c" style="left:210.60px;width:46.50px;border-right:none">
<div class="n i" style="right:1.3px;line-height:11.43px;color:#a2a2a2">1.496,00</div>
</div>
<div class="c" style="left:258.50px;width:33.33px;">
<div class="n" style="line-height:11.43px;">144,00</div>
</div>
<div class="c" style="left:291.83px;width:33.33px;">
<div class="n" style="line-height:11.43px;">52,00</div>
</div>
<div class="c" style="left:325.17px;width:33.33px;">
<div class="n" style="line-height:11.43px;">52,00</div>
</div>
<div class="c" style="left:358.50px;width:33.33px;">
<div class="n" style="line-height:11.43px;">80,00</div>
</div>
<div class="c" style="left:391.83px;width:33.33px;">
</div>
<div class="c" style="left:425.17px;width:33.33px;">
<div class="n" style="line-height:11.43px;">240,00</div>
</div>
<div class="c" style="left:458.50px;width:33.33px;">
</div>
<div class="c" style="left:491.83px;width:33.33px;">
</div>
<div class="c" style="left:525.17px;width:33.33px;">
</div>
<div class="c" style="left:558.50px;width:33.33px;">
</div>
<div class="c" style="left:591.83px;width:33.33px;">
</div>
<div class="c" style="left:625.17px;width:33.33px;">
</div>
<div class="c" style="left:658.50px;width:33.33px;">
</div>
<div class="c" style="left:691.83px;width:33.33px;">
</div>
<div class="c" style="left:725.17px;width:33.33px;">
</div>
</div>
<div class="row" style="top:34.29px;height:11.43px;background:#d9d9d9">
<div class="c" style="left:0;width:87.20px;">
<svg class="abs" style="left:8.60px;top:4.00px" width="4.2" height="3" viewBox="0 0 4.2 3"><path d="M0 0h4.2L2.1 3z" fill="#787878"/></svg>
<div class="nm" style="left:15.10px;line-height:11.43px;">Operations</div>
</div>
<div class="c" style="left:87.20px;width:47.60px">
</div>
<div class="c" style="left:134.80px;width:46.90px">
</div>
<div class="c" style="left:181.70px;width:28.90px">
</div>
<div class="c" style="left:210.60px;width:46.50px;border-right:none">
<div class="n i" style="right:1.3px;line-height:11.43px;color:#a2a2a2">1.306,50</div>
</div>
<div class="c" style="left:258.50px;width:33.33px;">
<div class="n" style="line-height:11.43px;">24,00</div>
</div>
<div class="c" style="left:291.83px;width:33.33px;">
<div class="n" style="line-height:11.43px;">64,00</div>
</div>
<div class="c" style="left:325.17px;width:33.33px;">
<div class="n" style="line-height:11.43px;">88,00</div>
</div>
<div class="c" style="left:358.50px;width:33.33px;">
<div class="n" style="line-height:11.43px;">88,00</div>
</div>
<div class="c" style="left:391.83px;width:33.33px;">
<div class="n" style="line-height:11.43px;">88,00</div>
</div>
<div class="c" style="left:425.17px;width:33.33px;">
<div class="n" style="line-height:11.43px;">88,00</div>
</div>
<div class="c" style="left:458.50px;width:33.33px;">
<div class="n" style="line-height:11.43px;">88,00</div>
</div>
<div class="c" style="left:491.83px;width:33.33px;">
<div class="n" style="line-height:11.43px;">88,00</div>
</div>
<div class="c" style="left:525.17px;width:33.33px;">
<div class="n" style="line-height:11.43px;">88,00</div>
</div>
<div class="c" style="left:558.50px;width:33.33px;">
<div class="n" style="line-height:11.43px;">88,00</div>
</div>
<div class="c" style="left:591.83px;width:33.33px;">
<div class="n" style="line-height:11.43px;">66,50</div>
</div>
<div class="c" style="left:625.17px;width:33.33px;">
<div class="n" style="line-height:11.43px;">64,00</div>
</div>
<div class="c" style="left:658.50px;width:33.33px;">
</div>
<div class="c" style="left:691.83px;width:33.33px;">
</div>
<div class="c" style="left:725.17px;width:33.33px;">
</div>
</div>
<div class="row" style="top:45.72px;height:11.43px;background:#d9d9d9">
<div class="c" style="left:0;width:87.20px;">
<svg class="abs" style="left:14.10px;top:3.20px" width="3.3" height="4.2" viewBox="0 0 3.3 4.2"><path d="M0 0v4.2L3.3 2.1z" fill="#787878"/></svg>
<div class="nm" style="left:19.90px;line-height:11.43px;">General Operations</div>
</div>
<div class="c" style="left:87.20px;width:47.60px">
</div>
<div class="c" style="left:134.80px;width:46.90px">
</div>
<div class="c" style="left:181.70px;width:28.90px">
</div>
<div class="c" style="left:210.60px;width:46.50px;border-right:none">
<div class="n i" style="right:1.3px;line-height:11.43px;color:#a2a2a2">1.112,00</div>
</div>
<div class="c" style="left:258.50px;width:33.33px;">
<div class="n" style="line-height:11.43px;">24,00</div>
</div>
<div class="c" style="left:291.83px;width:33.33px;">
<div class="n" style="line-height:11.43px;">64,00</div>
</div>
<div class="c" style="left:325.17px;width:33.33px;">
<div class="n" style="line-height:11.43px;">64,00</div>
</div>
<div class="c" style="left:358.50px;width:33.33px;">
<div class="n" style="line-height:11.43px;">64,00</div>
</div>
<div class="c" style="left:391.83px;width:33.33px;">
<div class="n" style="line-height:11.43px;">64,00</div>
</div>
<div class="c" style="left:425.17px;width:33.33px;">
<div class="n" style="line-height:11.43px;">64,00</div>
</div>
<div class="c" style="left:458.50px;width:33.33px;">
<div class="n" style="line-height:11.43px;">64,00</div>
</div>
<div class="c" style="left:491.83px;width:33.33px;">
<div class="n" style="line-height:11.43px;">64,00</div>
</div>
<div class="c" style="left:525.17px;width:33.33px;">
<div class="n" style="line-height:11.43px;">64,00</div>
</div>
<div class="c" style="left:558.50px;width:33.33px;">
<div class="n" style="line-height:11.43px;">64,00</div>
</div>
<div class="c" style="left:591.83px;width:33.33px;">
<div class="n" style="line-height:11.43px;">64,00</div>
</div>
<div class="c" style="left:625.17px;width:33.33px;">
<div class="n" style="line-height:11.43px;">64,00</div>
</div>
<div class="c" style="left:658.50px;width:33.33px;">
</div>
<div class="c" style="left:691.83px;width:33.33px;">
</div>
<div class="c" style="left:725.17px;width:33.33px;">
</div>
</div>
<div class="row" style="top:57.15px;height:11.43px;background:#d9d9d9">
<div class="c" style="left:0;width:87.20px;">
<svg class="abs" style="left:14.10px;top:3.20px" width="3.3" height="4.2" viewBox="0 0 3.3 4.2"><path d="M0 0v4.2L3.3 2.1z" fill="#787878"/></svg>
<div class="nm" style="left:19.90px;line-height:11.43px;">Individual Operations</div>
</div>
<div class="c" style="left:87.20px;width:47.60px">
</div>
<div class="c" style="left:134.80px;width:46.90px">
</div>
<div class="c" style="left:181.70px;width:28.90px">
</div>
<div class="c" style="left:210.60px;width:46.50px;border-right:none">
<div class="n i" style="right:1.3px;line-height:11.43px;color:#a2a2a2">194,50</div>
</div>
<div class="c" style="left:258.50px;width:33.33px;">
</div>
<div class="c" style="left:291.83px;width:33.33px;">
</div>
<div class="c" style="left:325.17px;width:33.33px;">
<div class="n" style="line-height:11.43px;">24,00</div>
</div>
<div class="c" style="left:358.50px;width:33.33px;">
<div class="n" style="line-height:11.43px;">24,00</div>
</div>
<div class="c" style="left:391.83px;width:33.33px;">
<div class="n" style="line-height:11.43px;">24,00</div>
</div>
<div class="c" style="left:425.17px;width:33.33px;">
<div class="n" style="line-height:11.43px;">24,00</div>
</div>
<div class="c" style="left:458.50px;width:33.33px;">
<div class="n" style="line-height:11.43px;">24,00</div>
</div>
<div class="c" style="left:491.83px;width:33.33px;">
<div class="n" style="line-height:11.43px;">24,00</div>
</div>
<div class="c" style="left:525.17px;width:33.33px;">
<div class="n" style="line-height:11.43px;">24,00</div>
</div>
<div class="c" style="left:558.50px;width:33.33px;">
<div class="n" style="line-height:11.43px;">24,00</div>
</div>
<div class="c" style="left:591.83px;width:33.33px;">
<div class="n" style="line-height:11.43px;">2,50</div>
</div>
<div class="c" style="left:625.17px;width:33.33px;">
</div>
<div class="c" style="left:658.50px;width:33.33px;">
</div>
<div class="c" style="left:691.83px;width:33.33px;">
</div>
<div class="c" style="left:725.17px;width:33.33px;">
</div>
</div>
<div class="row" style="top:68.58px;height:11.43px;background:#d9d9d9">
<div class="c" style="left:0;width:87.20px;">
<div class="nm" style="left:15.10px;line-height:11.43px;">Project Availability</div>
</div>
<div class="c" style="left:87.20px;width:47.60px">
</div>
<div class="c" style="left:134.80px;width:46.90px">
</div>
<div class="c" style="left:181.70px;width:28.90px">
</div>
<div class="c" style="left:210.60px;width:46.50px;border-right:none">
<div class="n i" style="right:1.3px;line-height:11.43px;color:#a2a2a2">9.149,50</div>
</div>
<div class="c" style="left:258.50px;width:33.33px;">
<div class="n" style="line-height:11.43px;">-168,00</div>
</div>
<div class="c" style="left:291.83px;width:33.33px;">
<div class="n" style="line-height:11.43px;">388,00</div>
</div>
<div class="c" style="left:325.17px;width:33.33px;">
<div class="n" style="line-height:11.43px;">340,00</div>
</div>
<div class="c" style="left:358.50px;width:33.33px;">
<div class="n" style="line-height:11.43px;">336,00</div>
</div>
<div class="c" style="left:391.83px;width:33.33px;">
<div class="n" style="line-height:11.43px;">368,00</div>
</div>
<div class="c" style="left:425.17px;width:33.33px;">
<div class="n" style="line-height:11.43px;">152,00</div>
</div>
<div class="c" style="left:458.50px;width:33.33px;">
<div class="n" style="line-height:11.43px;">464,00</div>
</div>
<div class="c" style="left:491.83px;width:33.33px;">
<div class="n" style="line-height:11.43px;">416,00</div>
</div>
<div class="c" style="left:525.17px;width:33.33px;">
<div class="n" style="line-height:11.43px;">416,00</div>
</div>
<div class="c" style="left:558.50px;width:33.33px;">
<div class="n" style="line-height:11.43px;">440,00</div>
</div>
<div class="c" style="left:591.83px;width:33.33px;">
<div class="n" style="line-height:11.43px;">413,50</div>
</div>
<div class="c" style="left:625.17px;width:33.33px;">
<div class="n" style="line-height:11.43px;">368,00</div>
</div>
<div class="c" style="left:658.50px;width:33.33px;">
<div class="n" style="line-height:11.43px;">504,00</div>
</div>
<div class="c" style="left:691.83px;width:33.33px;">
<div class="n" style="line-height:11.43px;">480,00</div>
</div>
<div class="c" style="left:725.17px;width:33.33px;">
</div>
</div>
<div class="row" style="top:80.01px;height:11.43px;background:#d9d9d9">
<div class="c" style="left:0;width:87.20px;">
<svg class="abs" style="left:9.30px;top:3.20px" width="3.3" height="4.2" viewBox="0 0 3.3 4.2"><path d="M0 0v4.2L3.3 2.1z" fill="#787878"/></svg>
<div class="nm" style="left:15.10px;line-height:11.43px;">Projects</div>
</div>
<div class="c" style="left:87.20px;width:47.60px">
</div>
<div class="c" style="left:134.80px;width:46.90px">
</div>
<div class="c" style="left:181.70px;width:28.90px">
</div>
<div class="c" style="left:210.60px;width:46.50px;border-right:none">
<div class="n i" style="right:1.3px;line-height:11.43px;color:#a2a2a2">-6.400,00</div>
</div>
<div class="c" style="left:258.50px;width:33.33px;">
<div class="f" style="background:#e26f2c"></div>
<div class="n" style="line-height:11.43px;color:rgba(255,255,255,.8);">-222,20</div>
</div>
<div class="c" style="left:291.83px;width:33.33px;">
<div class="f" style="background:#e26f2c"></div>
<div class="n" style="line-height:11.43px;color:rgba(255,255,255,.8);">-247,60</div>
</div>
<div class="c" style="left:325.17px;width:33.33px;">
<div class="f" style="background:#e26f2c"></div>
<div class="n" style="line-height:11.43px;color:rgba(255,255,255,.8);">-310,20</div>
</div>
<div class="c" style="left:358.50px;width:33.33px;">
<div class="f" style="background:#e26f2c"></div>
<div class="n" style="line-height:11.43px;color:rgba(255,255,255,.8);">-231,56</div>
</div>
<div class="c" style="left:391.83px;width:33.33px;">
<div class="f" style="background:#e26f2c"></div>
<div class="n" style="line-height:11.43px;color:rgba(255,255,255,.8);">-408,88</div>
</div>
<div class="c" style="left:425.17px;width:33.33px;">
<div class="f" style="background:#e26f2c"></div>
<div class="n" style="line-height:11.43px;color:rgba(255,255,255,.8);">-479,56</div>
</div>
<div class="c" style="left:458.50px;width:33.33px;">
<div class="f" style="background:#e26f2c"></div>
<div class="n" style="line-height:11.43px;color:rgba(255,255,255,.8);">-396,00</div>
</div>
<div class="c" style="left:491.83px;width:33.33px;">
<div class="f" style="background:#e26f2c"></div>
<div class="n" style="line-height:11.43px;color:rgba(255,255,255,.8);">-304,00</div>
</div>
<div class="c" style="left:525.17px;width:33.33px;">
<div class="f" style="background:#e26f2c"></div>
<div class="n" style="line-height:11.43px;color:rgba(255,255,255,.8);">-400,00</div>
</div>
<div class="c" style="left:558.50px;width:33.33px;">
<div class="f" style="background:#e26f2c"></div>
<div class="n" style="line-height:11.43px;color:rgba(255,255,255,.8);">-320,00</div>
</div>
<div class="c" style="left:591.83px;width:33.33px;">
<div class="f" style="background:#e26f2c"></div>
<div class="n" style="line-height:11.43px;color:rgba(255,255,255,.8);">-160,00</div>
</div>
<div class="c" style="left:625.17px;width:33.33px;">
<div class="f" style="background:#a5c63b"></div>
</div>
<div class="c" style="left:658.50px;width:33.33px;">
</div>
<div class="c" style="left:691.83px;width:33.33px;">
</div>
<div class="c" style="left:725.17px;width:33.33px;">
</div>
</div>
<div class="row" style="top:91.44px;height:11.43px;background:#c9c9c9">
<div class="c" style="left:0;width:87.20px;">
<svg class="abs" style="left:9.30px;top:3.20px" width="3.3" height="4.2" viewBox="0 0 3.3 4.2"><path d="M0 0v4.2L3.3 2.1z" fill="#8e8e8e"/></svg>
<div class="nm b" style="left:15.10px;line-height:11.43px;color:#343434;font-size:6.05px;">_Gen Development</div>
</div>
<div class="c" style="left:87.20px;width:47.60px">
<div class="nm b" style="left:3.6px;line-height:11.43px;color:#2e2e2e;font-size:5.8px">DotNET</div>
</div>
<div class="c" style="left:134.80px;width:46.90px">
</div>
<div class="c" style="left:181.70px;width:28.90px">
</div>
<div class="c" style="left:210.60px;width:46.50px;border-right:none">
<div class="n b i" style="right:1.3px;line-height:11.43px;color:#2e2e2e">-4.600,00</div>
</div>
<div class="c" style="left:258.50px;width:33.33px;">
<div class="n b" style="line-height:11.43px;color:#2e2e2e;">-270,20</div>
</div>
<div class="c" style="left:291.83px;width:33.33px;">
<div class="n b" style="line-height:11.43px;color:#2e2e2e;">-167,60</div>
</div>
<div class="c" style="left:325.17px;width:33.33px;">
<div class="n b" style="line-height:11.43px;color:#2e2e2e;">-242,20</div>
</div>
<div class="c" style="left:358.50px;width:33.33px;">
<div class="n b" style="line-height:11.43px;color:#2e2e2e;">-238,90</div>
</div>
<div class="c" style="left:391.83px;width:33.33px;">
<div class="n b" style="line-height:11.43px;color:#2e2e2e;">-162,20</div>
</div>
<div class="c" style="left:425.17px;width:33.33px;">
<div class="n b" style="line-height:11.43px;color:#2e2e2e;">-158,90</div>
</div>
<div class="c" style="left:458.50px;width:33.33px;">
<div class="n b" style="line-height:11.43px;color:#2e2e2e;">-40,00</div>
</div>
<div class="c" style="left:491.83px;width:33.33px;">
</div>
<div class="c" style="left:525.17px;width:33.33px;">
</div>
<div class="c" style="left:558.50px;width:33.33px;">
</div>
<div class="c" style="left:591.83px;width:33.33px;">
</div>
<div class="c" style="left:625.17px;width:33.33px;">
</div>
<div class="c" style="left:658.50px;width:33.33px;">
</div>
<div class="c" style="left:691.83px;width:33.33px;">
</div>
<div class="c" style="left:725.17px;width:33.33px;">
</div>
</div>
<div class="row" style="top:102.87px;height:11.43px;background:#c9c9c9">
<div class="c" style="left:0;width:87.20px;">
<svg class="abs" style="left:8.60px;top:4.00px" width="4.2" height="3" viewBox="0 0 4.2 3"><path d="M0 0h4.2L2.1 3z" fill="#8e8e8e"/></svg>
<div class="nm b" style="left:15.10px;line-height:11.43px;color:#343434;font-size:6.05px;">Daniela</div>
</div>
<div class="c" style="left:87.20px;width:47.60px">
<div class="nm b" style="left:3.6px;line-height:11.43px;color:#2e2e2e;font-size:5.8px">PMP</div>
</div>
<div class="c" style="left:134.80px;width:46.90px">
</div>
<div class="c" style="left:181.70px;width:28.90px">
</div>
<div class="c" style="left:210.60px;width:46.50px;border-right:none">
<div class="n b i" style="right:1.3px;line-height:11.43px;color:#2e2e2e">345,50</div>
</div>
<div class="c" style="left:258.50px;width:33.33px;">
<div class="n b" style="line-height:11.43px;color:#2e2e2e;">-64,00</div>
</div>
<div class="c" style="left:291.83px;width:33.33px;">
<div class="f" style="background:#a9c8ea"></div>
<div class="n b" style="line-height:11.43px;color:#222;">24,00</div>
</div>
<div class="c" style="left:325.17px;width:33.33px;">
<div class="f" style="background:#4472c4"></div>
<div class="n b" style="line-height:11.43px;color:#fff;">32,00</div>
</div>
<div class="c" style="left:358.50px;width:33.33px;">
<div class="f" style="background:#4472c4"></div>
<div class="n b" style="line-height:11.43px;color:#fff;">40,00</div>
</div>
<div class="c" style="left:391.83px;width:33.33px;">
<div class="f" style="background:#e26f2c"></div>
<div class="n b" style="line-height:11.43px;color:#fff;">-36,00</div>
</div>
<div class="c" style="left:425.17px;width:33.33px;">
<div class="f" style="background:#e26f2c"></div>
<div class="n b" style="line-height:11.43px;color:#fff;">-68,00</div>
</div>
<div class="c" style="left:458.50px;width:33.33px;">
<div class="f" style="background:#f0cc40"></div>
<div class="n b" style="line-height:11.43px;color:#222;">-24,00</div>
</div>
<div class="c" style="left:491.83px;width:33.33px;">
<div class="f" style="background:#4472c4"></div>
<div class="n b" style="line-height:11.43px;color:#fff;">100,00</div>
</div>
<div class="c" style="left:525.17px;width:33.33px;">
<div class="f" style="background:#4472c4"></div>
<div class="n b" style="line-height:11.43px;color:#fff;">100,00</div>
</div>
<div class="c" style="left:558.50px;width:33.33px;">
<div class="f" style="background:#4472c4"></div>
<div class="n b" style="line-height:11.43px;color:#fff;">108,00</div>
</div>
<div class="c" style="left:591.83px;width:33.33px;">
<div class="f" style="background:#4472c4"></div>
<div class="n b" style="line-height:11.43px;color:#fff;">113,50</div>
</div>
<div class="c" style="left:625.17px;width:33.33px;">
<div class="f" style="background:#4472c4"></div>
<div class="n b" style="line-height:11.43px;color:#fff;">100,00</div>
</div>
<div class="c" style="left:658.50px;width:33.33px;">
<div class="f" style="background:#4472c4"></div>
<div class="n b" style="line-height:11.43px;color:#fff;">168,00</div>
</div>
<div class="c" style="left:691.83px;width:33.33px;">
<div class="f" style="background:#4472c4"></div>
<div class="n b" style="line-height:11.43px;color:#fff;">160,00</div>
</div>
<div class="c" style="left:725.17px;width:33.33px;">
<div class="f" style="background:#4472c4"></div>
</div>
</div>
<div class="row w" style="top:114.30px;height:11.43px;background:#ffffff">
<div class="c" style="left:0;width:87.20px;">
<div class="nm i" style="left:19.90px;line-height:11.43px;color:#a6a6a6;font-size:5.6px;">Capacity</div>
</div>
<div class="c" style="left:87.20px;width:47.60px">
</div>
<div class="c" style="left:134.80px;width:46.90px">
</div>
<div class="c" style="left:181.70px;width:28.90px">
</div>
<div class="c" style="left:210.60px;width:46.50px;border-right:none">
<div class="n i" style="right:1.3px;line-height:11.43px;color:#a2a2a2">3.984,00</div>
</div>
<div class="c" style="left:258.50px;width:33.33px;">
</div>
<div class="c" style="left:291.83px;width:33.33px;">
<div class="n i" style="line-height:11.43px;color:#a6a6a6;">168,00</div>
</div>
<div class="c" style="left:325.17px;width:33.33px;">
<div class="n i" style="line-height:11.43px;color:#a6a6a6;">160,00</div>
</div>
<div class="c" style="left:358.50px;width:33.33px;">
<div class="n i" style="line-height:11.43px;color:#a6a6a6;">168,00</div>
</div>
<div class="c" style="left:391.83px;width:33.33px;">
<div class="n i" style="line-height:11.43px;color:#a6a6a6;">152,00</div>
</div>
<div class="c" style="left:425.17px;width:33.33px;">
<div class="n i" style="line-height:11.43px;color:#a6a6a6;">160,00</div>
</div>
<div class="c" style="left:458.50px;width:33.33px;">
<div class="n i" style="line-height:11.43px;color:#a6a6a6;">184,00</div>
</div>
<div class="c" style="left:491.83px;width:33.33px;">
<div class="n i" style="line-height:11.43px;color:#a6a6a6;">168,00</div>
</div>
<div class="c" style="left:525.17px;width:33.33px;">
<div class="n i" style="line-height:11.43px;color:#a6a6a6;">168,00</div>
</div>
<div class="c" style="left:558.50px;width:33.33px;">
<div class="n i" style="line-height:11.43px;color:#a6a6a6;">176,00</div>
</div>
<div class="c" style="left:591.83px;width:33.33px;">
<div class="n i" style="line-height:11.43px;color:#a6a6a6;">160,00</div>
</div>
<div class="c" style="left:625.17px;width:33.33px;">
<div class="n i" style="line-height:11.43px;color:#a6a6a6;">144,00</div>
</div>
<div class="c" style="left:658.50px;width:33.33px;">
<div class="n i" style="line-height:11.43px;color:#a6a6a6;">168,00</div>
</div>
<div class="c" style="left:691.83px;width:33.33px;">
<div class="n i" style="line-height:11.43px;color:#a6a6a6;">160,00</div>
</div>
<div class="c" style="left:725.17px;width:33.33px;">
</div>
</div>
<div class="row" style="top:125.73px;height:11.43px;background:#d9d9d9">
<div class="c" style="left:0;width:87.20px;">
<svg class="abs" style="left:14.10px;top:3.20px" width="3.3" height="4.2" viewBox="0 0 3.3 4.2"><path d="M0 0v4.2L3.3 2.1z" fill="#787878"/></svg>
<div class="nm" style="left:19.90px;line-height:11.43px;">Absences</div>
</div>
<div class="c" style="left:87.20px;width:47.60px">
</div>
<div class="c" style="left:134.80px;width:46.90px">
</div>
<div class="c" style="left:181.70px;width:28.90px">
</div>
<div class="c" style="left:210.60px;width:46.50px;border-right:none">
<div class="n i" style="right:1.3px;line-height:11.43px;color:#a2a2a2">636,00</div>
</div>
<div class="c" style="left:258.50px;width:33.33px;">
<div class="n" style="line-height:11.43px;">52,00</div>
</div>
<div class="c" style="left:291.83px;width:33.33px;">
<div class="n" style="line-height:11.43px;">40,00</div>
</div>
<div class="c" style="left:325.17px;width:33.33px;">
</div>
<div class="c" style="left:358.50px;width:33.33px;">
</div>
<div class="c" style="left:391.83px;width:33.33px;">
</div>
<div class="c" style="left:425.17px;width:33.33px;">
<div class="n" style="line-height:11.43px;">80,00</div>
</div>
<div class="c" style="left:458.50px;width:33.33px;">
</div>
<div class="c" style="left:491.83px;width:33.33px;">
</div>
<div class="c" style="left:525.17px;width:33.33px;">
</div>
<div class="c" style="left:558.50px;width:33.33px;">
</div>
<div class="c" style="left:591.83px;width:33.33px;">
</div>
<div class="c" style="left:625.17px;width:33.33px;">
</div>
<div class="c" style="left:658.50px;width:33.33px;">
</div>
<div class="c" style="left:691.83px;width:33.33px;">
</div>
<div class="c" style="left:725.17px;width:33.33px;">
</div>
</div>
<div class="row" style="top:137.16px;height:11.43px;background:#d9d9d9">
<div class="c" style="left:0;width:87.20px;">
<svg class="abs" style="left:14.10px;top:3.20px" width="3.3" height="4.2" viewBox="0 0 3.3 4.2"><path d="M0 0v4.2L3.3 2.1z" fill="#787878"/></svg>
<div class="nm" style="left:19.90px;line-height:11.43px;">Operations</div>
</div>
<div class="c" style="left:87.20px;width:47.60px">
</div>
<div class="c" style="left:134.80px;width:46.90px">
</div>
<div class="c" style="left:181.70px;width:28.90px">
</div>
<div class="c" style="left:210.60px;width:46.50px;border-right:none">
<div class="n i" style="right:1.3px;line-height:11.43px;color:#a2a2a2">662,50</div>
</div>
<div class="c" style="left:258.50px;width:33.33px;">
<div class="n" style="line-height:11.43px;">12,00</div>
</div>
<div class="c" style="left:291.83px;width:33.33px;">
<div class="n" style="line-height:11.43px;">24,00</div>
</div>
<div class="c" style="left:325.17px;width:33.33px;">
<div class="n" style="line-height:11.43px;">48,00</div>
</div>
<div class="c" style="left:358.50px;width:33.33px;">
<div class="n" style="line-height:11.43px;">48,00</div>
</div>
<div class="c" style="left:391.83px;width:33.33px;">
<div class="n" style="line-height:11.43px;">48,00</div>
</div>
<div class="c" style="left:425.17px;width:33.33px;">
<div class="n" style="line-height:11.43px;">48,00</div>
</div>
<div class="c" style="left:458.50px;width:33.33px;">
<div class="n" style="line-height:11.43px;">48,00</div>
</div>
<div class="c" style="left:491.83px;width:33.33px;">
<div class="n" style="line-height:11.43px;">48,00</div>
</div>
<div class="c" style="left:525.17px;width:33.33px;">
<div class="n" style="line-height:11.43px;">48,00</div>
</div>
<div class="c" style="left:558.50px;width:33.33px;">
<div class="n" style="line-height:11.43px;">48,00</div>
</div>
<div class="c" style="left:591.83px;width:33.33px;">
<div class="n" style="line-height:11.43px;">26,50</div>
</div>
<div class="c" style="left:625.17px;width:33.33px;">
<div class="n" style="line-height:11.43px;">24,00</div>
</div>
<div class="c" style="left:658.50px;width:33.33px;">
</div>
<div class="c" style="left:691.83px;width:33.33px;">
</div>
<div class="c" style="left:725.17px;width:33.33px;">
</div>
</div>
<div class="row" style="top:148.59px;height:11.43px;background:#d9d9d9">
<div class="c" style="left:0;width:87.20px;">
<div class="nm" style="left:19.90px;line-height:11.43px;">Project Availability</div>
</div>
<div class="c" style="left:87.20px;width:47.60px">
</div>
<div class="c" style="left:134.80px;width:46.90px">
</div>
<div class="c" style="left:181.70px;width:28.90px">
</div>
<div class="c" style="left:210.60px;width:46.50px;border-right:none">
<div class="n i" style="right:1.3px;line-height:11.43px;color:#a2a2a2">2.685,50</div>
</div>
<div class="c" style="left:258.50px;width:33.33px;">
<div class="n" style="line-height:11.43px;">-64,00</div>
</div>
<div class="c" style="left:291.83px;width:33.33px;">
<div class="n" style="line-height:11.43px;">104,00</div>
</div>
<div class="c" style="left:325.17px;width:33.33px;">
<div class="n" style="line-height:11.43px;">112,00</div>
</div>
<div class="c" style="left:358.50px;width:33.33px;">
<div class="n" style="line-height:11.43px;">120,00</div>
</div>
<div class="c" style="left:391.83px;width:33.33px;">
<div class="n" style="line-height:11.43px;">104,00</div>
</div>
<div class="c" style="left:425.17px;width:33.33px;">
<div class="n" style="line-height:11.43px;">32,00</div>
</div>
<div class="c" style="left:458.50px;width:33.33px;">
<div class="n" style="line-height:11.43px;">136,00</div>
</div>
<div class="c" style="left:491.83px;width:33.33px;">
<div class="n" style="line-height:11.43px;">120,00</div>
</div>
<div class="c" style="left:525.17px;width:33.33px;">
<div class="n" style="line-height:11.43px;">120,00</div>
</div>
<div class="c" style="left:558.50px;width:33.33px;">
<div class="n" style="line-height:11.43px;">128,00</div>
</div>
<div class="c" style="left:591.83px;width:33.33px;">
<div class="n" style="line-height:11.43px;">133,50</div>
</div>
<div class="c" style="left:625.17px;width:33.33px;">
<div class="n" style="line-height:11.43px;">120,00</div>
</div>
<div class="c" style="left:658.50px;width:33.33px;">
<div class="n" style="line-height:11.43px;">168,00</div>
</div>
<div class="c" style="left:691.83px;width:33.33px;">
<div class="n" style="line-height:11.43px;">160,00</div>
</div>
<div class="c" style="left:725.17px;width:33.33px;">
</div>
</div>
<div class="row" style="top:160.02px;height:11.43px;background:#d9d9d9">
<div class="c" style="left:0;width:87.20px;">
<svg class="abs" style="left:13.40px;top:4.00px" width="4.2" height="3" viewBox="0 0 4.2 3"><path d="M0 0h4.2L2.1 3z" fill="#787878"/></svg>
<div class="nm" style="left:19.90px;line-height:11.43px;">Projects</div>
</div>
<div class="c" style="left:87.20px;width:47.60px">
</div>
<div class="c" style="left:134.80px;width:46.90px">
</div>
<div class="c" style="left:181.70px;width:28.90px">
</div>
<div class="c" style="left:210.60px;width:46.50px;border-right:none">
<div class="n i" style="right:1.3px;line-height:11.43px;color:#a2a2a2">-20,00</div>
</div>
<div class="c" style="left:258.50px;width:33.33px;">
</div>
<div class="c" style="left:291.83px;width:33.33px;">
<div class="f" style="background:#a5c63b"></div>
</div>
<div class="c" style="left:325.17px;width:33.33px;">
<div class="f" style="background:#a5c63b"></div>
</div>
<div class="c" style="left:358.50px;width:33.33px;">
<div class="f" style="background:#a5c63b"></div>
</div>
<div class="c" style="left:391.83px;width:33.33px;">
<div class="f" style="background:#a5c63b"></div>
</div>
<div class="c" style="left:425.17px;width:33.33px;">
<div class="f" style="background:#e26f2c"></div>
<div class="n" style="line-height:11.43px;color:rgba(255,255,255,.8);">-40,00</div>
</div>
<div class="c" style="left:458.50px;width:33.33px;">
<div class="f" style="background:#a9c8ea"></div>
<div class="n" style="line-height:11.43px;color:#6f7885;">20,00</div>
</div>
<div class="c" style="left:491.83px;width:33.33px;">
<div class="f" style="background:#a5c63b"></div>
</div>
<div class="c" style="left:525.17px;width:33.33px;">
<div class="f" style="background:#a5c63b"></div>
</div>
<div class="c" style="left:558.50px;width:33.33px;">
<div class="f" style="background:#a5c63b"></div>
</div>
<div class="c" style="left:591.83px;width:33.33px;">
<div class="f" style="background:#a5c63b"></div>
</div>
<div class="c" style="left:625.17px;width:33.33px;">
<div class="f" style="background:#a5c63b"></div>
</div>
<div class="c" style="left:658.50px;width:33.33px;">
</div>
<div class="c" style="left:691.83px;width:33.33px;">
</div>
<div class="c" style="left:725.17px;width:33.33px;">
</div>
</div>
<div class="row" style="top:171.45px;height:11.43px;background:#e4e4e4">
<div class="c" style="left:0;width:87.20px;">
<div class="nm" style="left:24.70px;line-height:11.43px;">Requests</div>
</div>
<div class="c" style="left:87.20px;width:47.60px">
</div>
<div class="c" style="left:134.80px;width:46.90px">
</div>
<div class="c" style="left:181.70px;width:28.90px">
</div>
<div class="c" style="left:210.60px;width:46.50px;border-right:none">
<div class="n i" style="right:1.3px;line-height:11.43px;color:#a2a2a2">2.360,00</div>
</div>
<div class="c" style="left:258.50px;width:33.33px;">
</div>
<div class="c" style="left:291.83px;width:33.33px;">
<div class="n" style="line-height:11.43px;">80,00</div>
</div>
<div class="c" style="left:325.17px;width:33.33px;">
<div class="n" style="line-height:11.43px;">80,00</div>
</div>
<div class="c" style="left:358.50px;width:33.33px;">
<div class="n" style="line-height:11.43px;">80,00</div>
</div>
<div class="c" style="left:391.83px;width:33.33px;">
<div class="n" style="line-height:11.43px;">140,00</div>
</div>
<div class="c" style="left:425.17px;width:33.33px;">
<div class="n" style="line-height:11.43px;">140,00</div>
</div>
<div class="c" style="left:458.50px;width:33.33px;">
<div class="n" style="line-height:11.43px;">140,00</div>
</div>
<div class="c" style="left:491.83px;width:33.33px;">
<div class="n" style="line-height:11.43px;">20,00</div>
</div>
<div class="c" style="left:525.17px;width:33.33px;">
<div class="n" style="line-height:11.43px;">20,00</div>
</div>
<div class="c" style="left:558.50px;width:33.33px;">
<div class="n" style="line-height:11.43px;">20,00</div>
</div>
<div class="c" style="left:591.83px;width:33.33px;">
<div class="n" style="line-height:11.43px;">20,00</div>
</div>
<div class="c" style="left:625.17px;width:33.33px;">
<div class="n" style="line-height:11.43px;">20,00</div>
</div>
<div class="c" style="left:658.50px;width:33.33px;">
</div>
<div class="c" style="left:691.83px;width:33.33px;">
</div>
<div class="c" style="left:725.17px;width:33.33px;">
</div>
</div>
<div class="row" style="top:182.88px;height:11.43px;background:#e4e4e4">
<div class="c" style="left:0;width:87.20px;">
<div class="nm" style="left:24.70px;line-height:11.43px;">Commitments</div>
</div>
<div class="c" style="left:87.20px;width:47.60px">
</div>
<div class="c" style="left:134.80px;width:46.90px">
</div>
<div class="c" style="left:181.70px;width:28.90px">
</div>
<div class="c" style="left:210.60px;width:46.50px;border-right:none">
<div class="n i" style="right:1.3px;line-height:11.43px;color:#a2a2a2">2.340,00</div>
</div>
<div class="c" style="left:258.50px;width:33.33px;">
</div>
<div class="c" style="left:291.83px;width:33.33px;">
<div class="n" style="line-height:11.43px;">80,00</div>
</div>
<div class="c" style="left:325.17px;width:33.33px;">
<div class="n" style="line-height:11.43px;">80,00</div>
</div>
<div class="c" style="left:358.50px;width:33.33px;">
<div class="n" style="line-height:11.43px;">80,00</div>
</div>
<div class="c" style="left:391.83px;width:33.33px;">
<div class="n" style="line-height:11.43px;">140,00</div>
</div>
<div class="c" style="left:425.17px;width:33.33px;">
<div class="n" style="line-height:11.43px;">100,00</div>
</div>
<div class="c" style="left:458.50px;width:33.33px;">
<div class="n" style="line-height:11.43px;">160,00</div>
</div>
<div class="c" style="left:491.83px;width:33.33px;">
<div class="n" style="line-height:11.43px;">20,00</div>
</div>
<div class="c" style="left:525.17px;width:33.33px;">
<div class="n" style="line-height:11.43px;">20,00</div>
</div>
<div class="c" style="left:558.50px;width:33.33px;">
<div class="n" style="line-height:11.43px;">20,00</div>
</div>
<div class="c" style="left:591.83px;width:33.33px;">
<div class="n" style="line-height:11.43px;">20,00</div>
</div>
<div class="c" style="left:625.17px;width:33.33px;">
<div class="n" style="line-height:11.43px;">20,00</div>
</div>
<div class="c" style="left:658.50px;width:33.33px;">
</div>
<div class="c" style="left:691.83px;width:33.33px;">
</div>
<div class="c" style="left:725.17px;width:33.33px;">
</div>
</div>
<div class="row" style="top:194.31px;height:11.90px;background:#e4e4e4">
<div class="c" style="left:0;width:87.20px;">
<svg class="abs" style="left:18.90px;top:3.20px" width="3.3" height="4.2" viewBox="0 0 3.3 4.2"><path d="M0 0v4.2L3.3 2.1z" fill="#787878"/></svg>
<div class="nm" style="left:24.70px;line-height:11.43px;">Demo JS 03</div>
</div>
<div class="c" style="left:87.20px;width:47.60px">
</div>
<div class="c" style="left:134.80px;width:46.90px">
<div class="nm" style="left:3.6px;line-height:11.43px;">A</div>
</div>
<div class="c" style="left:181.70px;width:28.90px">
<svg class="abs" style="left:11.95px;top:2.40px" width="5.9" height="5.9" viewBox="0 0 6 6"><circle cx="3" cy="3" r="2.9" fill="#41802a"/><path d="M1.6 3.1l1 1L4.5 2" fill="none" stroke="#fff" stroke-width=".9"/></svg>
</div>
<div class="c" style="left:210.60px;width:46.50px;border-right:none">
</div>
<div class="c" style="left:258.50px;width:33.33px;">
</div>
<div class="c" style="left:291.83px;width:33.33px;">
<div class="f" style="background:#a5c63b;bottom:.7px"></div>
</div>
<div class="c" style="left:325.17px;width:33.33px;">
<div class="f" style="background:#a5c63b;bottom:.7px"></div>
</div>
<div class="c" style="left:358.50px;width:33.33px;">
<div class="f" style="background:#a5c63b;bottom:.7px"></div>
</div>
<div class="c" style="left:391.83px;width:33.33px;">
</div>
<div class="c" style="left:425.17px;width:33.33px;">
</div>
<div class="c" style="left:458.50px;width:33.33px;">
</div>
<div class="c" style="left:491.83px;width:33.33px;">
</div>
<div class="c" style="left:525.17px;width:33.33px;">
</div>
<div class="c" style="left:558.50px;width:33.33px;">
</div>
<div class="c" style="left:591.83px;width:33.33px;">
</div>
<div class="c" style="left:625.17px;width:33.33px;">
</div>
<div class="c" style="left:658.50px;width:33.33px;">
</div>
<div class="c" style="left:691.83px;width:33.33px;">
</div>
<div class="c" style="left:725.17px;width:33.33px;">
</div>
</div>
<div class="row" style="top:206.21px;height:11.90px;background:#e4e4e4">
<div class="c" style="left:0;width:87.20px;">
<svg class="abs" style="left:18.20px;top:4.00px" width="4.2" height="3" viewBox="0 0 4.2 3"><path d="M0 0h4.2L2.1 3z" fill="#787878"/></svg>
<div class="nm" style="left:24.70px;line-height:11.43px;">Demo JS 04</div>
</div>
<div class="c" style="left:87.20px;width:47.60px">
</div>
<div class="c" style="left:134.80px;width:46.90px">
</div>
<div class="c" style="left:181.70px;width:28.90px">
<svg class="abs" style="left:11.95px;top:2.40px" width="5.9" height="5.9" viewBox="0 0 6 6"><circle cx="3" cy="3" r="2.9" fill="#41802a"/><path d="M1.6 3.1l1 1L4.5 2" fill="none" stroke="#fff" stroke-width=".9"/></svg>
</div>
<div class="c" style="left:210.60px;width:46.50px;border-right:none">
<div class="n i" style="right:1.3px;line-height:11.43px;color:#a2a2a2">-20,00</div>
</div>
<div class="c" style="left:258.50px;width:33.33px;">
</div>
<div class="c" style="left:291.83px;width:33.33px;">
</div>
<div class="c" style="left:325.17px;width:33.33px;">
</div>
<div class="c" style="left:358.50px;width:33.33px;">
</div>
<div class="c" style="left:391.83px;width:33.33px;">
<div class="f" style="background:#a5c63b;bottom:.7px"></div>
</div>
<div class="c" style="left:425.17px;width:33.33px;">
<div class="f" style="background:#e26f2c;bottom:.7px"></div>
<div class="n" style="line-height:11.43px;color:rgba(255,255,255,.8);">-40,00</div>
</div>
<div class="c" style="left:458.50px;width:33.33px;">
<div class="f" style="background:#a9c8ea;bottom:.7px"></div>
<div class="n" style="line-height:11.43px;color:#6f7885;">20,00</div>
</div>
<div class="c" style="left:491.83px;width:33.33px;">
</div>
<div class="c" style="left:525.17px;width:33.33px;">
</div>
<div class="c" style="left:558.50px;width:33.33px;">
</div>
<div class="c" style="left:591.83px;width:33.33px;">
</div>
<div class="c" style="left:625.17px;width:33.33px;">
</div>
<div class="c" style="left:658.50px;width:33.33px;">
</div>
<div class="c" style="left:691.83px;width:33.33px;">
</div>
<div class="c" style="left:725.17px;width:33.33px;">
</div>
</div>
<div class="row w" style="top:218.11px;height:11.43px;background:#ffffff">
<div class="c" style="left:0;width:87.20px;">
<div class="nm" style="left:29.50px;line-height:11.43px;">Requests</div>
</div>
<div class="c" style="left:87.20px;width:47.60px">
</div>
<div class="c" style="left:134.80px;width:46.90px">
</div>
<div class="c" style="left:181.70px;width:28.90px">
</div>
<div class="c" style="left:210.60px;width:46.50px;border-right:none">
<div class="n i" style="right:1.3px;line-height:11.43px;color:#a2a2a2">360,00</div>
</div>
<div class="c" style="left:258.50px;width:33.33px;">
</div>
<div class="c" style="left:291.83px;width:33.33px;">
</div>
<div class="c" style="left:325.17px;width:33.33px;">
</div>
<div class="c" style="left:358.50px;width:33.33px;">
</div>
<div class="c" style="left:391.83px;width:33.33px;">
<div class="n" style="line-height:11.43px;">120,00</div>
</div>
<div class="c" style="left:425.17px;width:33.33px;">
<div class="n" style="line-height:11.43px;">120,00</div>
</div>
<div class="c" style="left:458.50px;width:33.33px;">
<div class="n" style="line-height:11.43px;">120,00</div>
</div>
<div class="c" style="left:491.83px;width:33.33px;">
</div>
<div class="c" style="left:525.17px;width:33.33px;">
</div>
<div class="c" style="left:558.50px;width:33.33px;">
</div>
<div class="c" style="left:591.83px;width:33.33px;">
</div>
<div class="c" style="left:625.17px;width:33.33px;">
</div>
<div class="c" style="left:658.50px;width:33.33px;">
</div>
<div class="c" style="left:691.83px;width:33.33px;">
</div>
<div class="c" style="left:725.17px;width:33.33px;">
</div>
</div>
<div class="row w" style="top:229.54px;height:11.43px;background:#ffffff">
<div class="c" style="left:0;width:87.20px;">
<div class="nm" style="left:29.50px;line-height:11.43px;">Commitments</div>
</div>
<div class="c" style="left:87.20px;width:47.60px">
</div>
<div class="c" style="left:134.80px;width:46.90px">
</div>
<div class="c" style="left:181.70px;width:28.90px">
</div>
<div class="c" style="left:210.60px;width:46.50px;border-right:none">
<div class="n i" style="right:1.3px;line-height:11.43px;color:#a2a2a2">340,00</div>
</div>
<div class="c" style="left:258.50px;width:33.33px;">
</div>
<div class="c" style="left:291.83px;width:33.33px;">
</div>
<div class="c" style="left:325.17px;width:33.33px;">
</div>
<div class="c" style="left:358.50px;width:33.33px;">
</div>
<div class="c" style="left:391.83px;width:33.33px;">
<div class="n" style="line-height:11.43px;">120,00</div>
</div>
<div class="c" style="left:425.17px;width:33.33px;">
<div class="n" style="line-height:11.43px;">80,00</div>
</div>
<div class="c" style="left:458.50px;width:33.33px;">
<div class="n" style="line-height:11.43px;">140,00</div>
</div>
<div class="c" style="left:491.83px;width:33.33px;">
</div>
<div class="c" style="left:525.17px;width:33.33px;">
</div>
<div class="c" style="left:558.50px;width:33.33px;">
</div>
<div class="c" style="left:591.83px;width:33.33px;">
</div>
<div class="c" style="left:625.17px;width:33.33px;">
</div>
<div class="c" style="left:658.50px;width:33.33px;">
</div>
<div class="c" style="left:691.83px;width:33.33px;">
</div>
<div class="c" style="left:725.17px;width:33.33px;">
</div>
</div>
<div class="row" style="top:240.97px;height:11.90px;background:#e4e4e4">
<div class="c" style="left:0;width:87.20px;">
<svg class="abs" style="left:18.90px;top:3.20px" width="3.3" height="4.2" viewBox="0 0 3.3 4.2"><path d="M0 0v4.2L3.3 2.1z" fill="#787878"/></svg>
<div class="nm" style="left:24.70px;line-height:11.43px;">Demo JS 05</div>
</div>
<div class="c" style="left:87.20px;width:47.60px">
</div>
<div class="c" style="left:134.80px;width:46.90px">
</div>
<div class="c" style="left:181.70px;width:28.90px">
<svg class="abs" style="left:11.95px;top:2.40px" width="5.9" height="5.9" viewBox="0 0 6 6"><circle cx="3" cy="3" r="2.9" fill="#41802a"/><path d="M1.6 3.1l1 1L4.5 2" fill="none" stroke="#fff" stroke-width=".9"/></svg>
</div>
<div class="c" style="left:210.60px;width:46.50px;border-right:none">
</div>
<div class="c" style="left:258.50px;width:33.33px;">
</div>
<div class="c" style="left:291.83px;width:33.33px;">
</div>
<div class="c" style="left:325.17px;width:33.33px;">
</div>
<div class="c" style="left:358.50px;width:33.33px;">
</div>
<div class="c" style="left:391.83px;width:33.33px;">
<div class="f" style="background:#a5c63b;bottom:.7px"></div>
</div>
<div class="c" style="left:425.17px;width:33.33px;">
<div class="f" style="background:#a5c63b;bottom:.7px"></div>
</div>
<div class="c" style="left:458.50px;width:33.33px;">
<div class="f" style="background:#a5c63b;bottom:.7px"></div>
</div>
<div class="c" style="left:491.83px;width:33.33px;">
<div class="f" style="background:#a5c63b;bottom:.7px"></div>
</div>
<div class="c" style="left:525.17px;width:33.33px;">
<div class="f" style="background:#a5c63b;bottom:.7px"></div>
</div>
<div class="c" style="left:558.50px;width:33.33px;">
<div class="f" style="background:#a5c63b;bottom:.7px"></div>
</div>
<div class="c" style="left:591.83px;width:33.33px;">
<div class="f" style="background:#a5c63b;bottom:.7px"></div>
</div>
<div class="c" style="left:625.17px;width:33.33px;">
<div class="f" style="background:#a5c63b;bottom:.7px"></div>
</div>
<div class="c" style="left:658.50px;width:33.33px;">
</div>
<div class="c" style="left:691.83px;width:33.33px;">
</div>
<div class="c" style="left:725.17px;width:33.33px;">
</div>
</div>
<div class="row" style="top:252.87px;height:11.90px;background:#e4e4e4">
<div class="c" style="left:0;width:87.20px;">
<svg class="abs" style="left:18.90px;top:3.20px" width="3.3" height="4.2" viewBox="0 0 3.3 4.2"><path d="M0 0v4.2L3.3 2.1z" fill="#787878"/></svg>
<div class="nm" style="left:24.70px;line-height:11.43px;">MSP_Project 01</div>
</div>
<div class="c" style="left:87.20px;width:47.60px">
</div>
<div class="c" style="left:134.80px;width:46.90px">
<div class="nm" style="left:3.6px;line-height:11.43px;">300</div>
</div>
<div class="c" style="left:181.70px;width:28.90px">
<svg class="abs" style="left:11.95px;top:2.40px" width="5.9" height="5.9" viewBox="0 0 6 6"><circle cx="3" cy="3" r="2.9" fill="#41802a"/><path d="M1.6 3.1l1 1L4.5 2" fill="none" stroke="#fff" stroke-width=".9"/></svg>
</div>
<div class="c" style="left:210.60px;width:46.50px;border-right:none">
</div>
<div class="c" style="left:258.50px;width:33.33px;">
</div>
<div class="c" style="left:291.83px;width:33.33px;">
</div>
<div class="c" style="left:325.17px;width:33.33px;">
</div>
<div class="c" style="left:358.50px;width:33.33px;">
</div>
<div class="c" style="left:391.83px;width:33.33px;">
</div>
<div class="c" style="left:425.17px;width:33.33px;">
</div>
<div class="c" style="left:458.50px;width:33.33px;">
</div>
<div class="c" style="left:491.83px;width:33.33px;">
</div>
<div class="c" style="left:525.17px;width:33.33px;">
</div>
<div class="c" style="left:558.50px;width:33.33px;">
</div>
<div class="c" style="left:591.83px;width:33.33px;">
</div>
<div class="c" style="left:625.17px;width:33.33px;">
</div>
<div class="c" style="left:658.50px;width:33.33px;">
</div>
<div class="c" style="left:691.83px;width:33.33px;">
</div>
<div class="c" style="left:725.17px;width:33.33px;">
</div>
</div>
<div class="row" style="top:264.77px;height:11.90px;background:#e4e4e4">
<div class="c" style="left:0;width:87.20px;">
<svg class="abs" style="left:18.90px;top:3.20px" width="3.3" height="4.2" viewBox="0 0 3.3 4.2"><path d="M0 0v4.2L3.3 2.1z" fill="#787878"/></svg>
<div class="nm" style="left:24.70px;line-height:11.43px;">MSP_Project 04</div>
</div>
<div class="c" style="left:87.20px;width:47.60px">
</div>
<div class="c" style="left:134.80px;width:46.90px">
<div class="nm" style="left:3.6px;line-height:11.43px;">100</div>
</div>
<div class="c" style="left:181.70px;width:28.90px">
<svg class="abs" style="left:11.95px;top:2.40px" width="5.9" height="5.9" viewBox="0 0 6 6"><circle cx="3" cy="3" r="2.9" fill="#41802a"/><path d="M1.6 3.1l1 1L4.5 2" fill="none" stroke="#fff" stroke-width=".9"/></svg>
</div>
<div class="c" style="left:210.60px;width:46.50px;border-right:none">
</div>
<div class="c" style="left:258.50px;width:33.33px;">
</div>
<div class="c" style="left:291.83px;width:33.33px;">
</div>
<div class="c" style="left:325.17px;width:33.33px;">
</div>
<div class="c" style="left:358.50px;width:33.33px;">
</div>
<div class="c" style="left:391.83px;width:33.33px;">
</div>
<div class="c" style="left:425.17px;width:33.33px;">
</div>
<div class="c" style="left:458.50px;width:33.33px;">
</div>
<div class="c" style="left:491.83px;width:33.33px;">
</div>
<div class="c" style="left:525.17px;width:33.33px;">
</div>
<div class="c" style="left:558.50px;width:33.33px;">
</div>
<div class="c" style="left:591.83px;width:33.33px;">
</div>
<div class="c" style="left:625.17px;width:33.33px;">
</div>
<div class="c" style="left:658.50px;width:33.33px;">
</div>
<div class="c" style="left:691.83px;width:33.33px;">
</div>
<div class="c" style="left:725.17px;width:33.33px;">
</div>
</div>
<div class="row" style="top:276.67px;height:11.90px;background:#e4e4e4">
<div class="c" style="left:0;width:87.20px;">
<svg class="abs" style="left:18.90px;top:3.20px" width="3.3" height="4.2" viewBox="0 0 3.3 4.2"><path d="M0 0v4.2L3.3 2.1z" fill="#787878"/></svg>
<div class="nm" style="left:24.70px;line-height:11.43px;">MSP_Project 07</div>
</div>
<div class="c" style="left:87.20px;width:47.60px">
</div>
<div class="c" style="left:134.80px;width:46.90px">
<div class="nm" style="left:3.6px;line-height:11.43px;">100</div>
</div>
<div class="c" style="left:181.70px;width:28.90px">
<svg class="abs" style="left:11.95px;top:2.40px" width="5.9" height="5.9" viewBox="0 0 6 6"><circle cx="3" cy="3" r="2.9" fill="#41802a"/><path d="M1.6 3.1l1 1L4.5 2" fill="none" stroke="#fff" stroke-width=".9"/></svg>
</div>
<div class="c" style="left:210.60px;width:46.50px;border-right:none">
</div>
<div class="c" style="left:258.50px;width:33.33px;">
</div>
<div class="c" style="left:291.83px;width:33.33px;">
</div>
<div class="c" style="left:325.17px;width:33.33px;">
</div>
<div class="c" style="left:358.50px;width:33.33px;">
</div>
<div class="c" style="left:391.83px;width:33.33px;">
</div>
<div class="c" style="left:425.17px;width:33.33px;">
</div>
<div class="c" style="left:458.50px;width:33.33px;">
</div>
<div class="c" style="left:491.83px;width:33.33px;">
</div>
<div class="c" style="left:525.17px;width:33.33px;">
</div>
<div class="c" style="left:558.50px;width:33.33px;">
</div>
<div class="c" style="left:591.83px;width:33.33px;">
</div>
<div class="c" style="left:625.17px;width:33.33px;">
</div>
<div class="c" style="left:658.50px;width:33.33px;">
</div>
<div class="c" style="left:691.83px;width:33.33px;">
</div>
<div class="c" style="left:725.17px;width:33.33px;">
</div>
</div>
<div class="row" style="top:288.57px;height:11.90px;background:#e4e4e4">
<div class="c" style="left:0;width:87.20px;">
<svg class="abs" style="left:18.90px;top:3.20px" width="3.3" height="4.2" viewBox="0 0 3.3 4.2"><path d="M0 0v4.2L3.3 2.1z" fill="#787878"/></svg>
<div class="nm" style="left:24.70px;line-height:11.43px;">MSP_Project 09</div>
</div>
<div class="c" style="left:87.20px;width:47.60px">
</div>
<div class="c" style="left:134.80px;width:46.90px">
<div class="nm" style="left:3.6px;line-height:11.43px;">300</div>
</div>
<div class="c" style="left:181.70px;width:28.90px">
<svg class="abs" style="left:11.95px;top:2.40px" width="5.9" height="5.9" viewBox="0 0 6 6"><circle cx="3" cy="3" r="2.9" fill="#41802a"/><path d="M1.6 3.1l1 1L4.5 2" fill="none" stroke="#fff" stroke-width=".9"/></svg>
</div>
<div class="c" style="left:210.60px;width:46.50px;border-right:none">
</div>
<div class="c" style="left:258.50px;width:33.33px;">
</div>
<div class="c" style="left:291.83px;width:33.33px;">
</div>
<div class="c" style="left:325.17px;width:33.33px;">
</div>
<div class="c" style="left:358.50px;width:33.33px;">
</div>
<div class="c" style="left:391.83px;width:33.33px;">
</div>
<div class="c" style="left:425.17px;width:33.33px;">
</div>
<div class="c" style="left:458.50px;width:33.33px;">
</div>
<div class="c" style="left:491.83px;width:33.33px;">
</div>
<div class="c" style="left:525.17px;width:33.33px;">
</div>
<div class="c" style="left:558.50px;width:33.33px;">
</div>
<div class="c" style="left:591.83px;width:33.33px;">
</div>
<div class="c" style="left:625.17px;width:33.33px;">
</div>
<div class="c" style="left:658.50px;width:33.33px;">
</div>
<div class="c" style="left:691.83px;width:33.33px;">
</div>
<div class="c" style="left:725.17px;width:33.33px;">
</div>
</div>
<div class="row" style="top:300.47px;height:11.90px;background:#e4e4e4">
<div class="c" style="left:0;width:87.20px;">
<svg class="abs" style="left:18.90px;top:3.20px" width="3.3" height="4.2" viewBox="0 0 3.3 4.2"><path d="M0 0v4.2L3.3 2.1z" fill="#787878"/></svg>
<div class="nm" style="left:24.70px;line-height:11.43px;">MSP_Project 11</div>
</div>
<div class="c" style="left:87.20px;width:47.60px">
</div>
<div class="c" style="left:134.80px;width:46.90px">
<div class="nm" style="left:3.6px;line-height:11.43px;">200</div>
</div>
<div class="c" style="left:181.70px;width:28.90px">
<svg class="abs" style="left:11.95px;top:2.40px" width="5.9" height="5.9" viewBox="0 0 6 6"><circle cx="3" cy="3" r="2.9" fill="#41802a"/><path d="M1.6 3.1l1 1L4.5 2" fill="none" stroke="#fff" stroke-width=".9"/></svg>
</div>
<div class="c" style="left:210.60px;width:46.50px;border-right:none">
</div>
<div class="c" style="left:258.50px;width:33.33px;">
</div>
<div class="c" style="left:291.83px;width:33.33px;">
</div>
<div class="c" style="left:325.17px;width:33.33px;">
</div>
<div class="c" style="left:358.50px;width:33.33px;">
</div>
<div class="c" style="left:391.83px;width:33.33px;">
</div>
<div class="c" style="left:425.17px;width:33.33px;">
</div>
<div class="c" style="left:458.50px;width:33.33px;">
</div>
<div class="c" style="left:491.83px;width:33.33px;">
</div>
<div class="c" style="left:525.17px;width:33.33px;">
</div>
<div class="c" style="left:558.50px;width:33.33px;">
</div>
<div class="c" style="left:591.83px;width:33.33px;">
</div>
<div class="c" style="left:625.17px;width:33.33px;">
</div>
<div class="c" style="left:658.50px;width:33.33px;">
</div>
<div class="c" style="left:691.83px;width:33.33px;">
</div>
<div class="c" style="left:725.17px;width:33.33px;">
</div>
</div>
<div class="row" style="top:312.37px;height:11.90px;background:#e4e4e4">
<div class="c" style="left:0;width:87.20px;">
<svg class="abs" style="left:18.90px;top:3.20px" width="3.3" height="4.2" viewBox="0 0 3.3 4.2"><path d="M0 0v4.2L3.3 2.1z" fill="#787878"/></svg>
<div class="nm" style="left:24.70px;line-height:11.43px;">MSP_Project 16</div>
</div>
<div class="c" style="left:87.20px;width:47.60px">
</div>
<div class="c" style="left:134.80px;width:46.90px">
<div class="nm" style="left:3.6px;line-height:11.43px;">300</div>
</div>
<div class="c" style="left:181.70px;width:28.90px">
<svg class="abs" style="left:11.95px;top:2.40px" width="5.9" height="5.9" viewBox="0 0 6 6"><circle cx="3" cy="3" r="2.9" fill="#41802a"/><path d="M1.6 3.1l1 1L4.5 2" fill="none" stroke="#fff" stroke-width=".9"/></svg>
</div>
<div class="c" style="left:210.60px;width:46.50px;border-right:none">
</div>
<div class="c" style="left:258.50px;width:33.33px;">
</div>
<div class="c" style="left:291.83px;width:33.33px;">
</div>
<div class="c" style="left:325.17px;width:33.33px;">
</div>
<div class="c" style="left:358.50px;width:33.33px;">
</div>
<div class="c" style="left:391.83px;width:33.33px;">
</div>
<div class="c" style="left:425.17px;width:33.33px;">
</div>
<div class="c" style="left:458.50px;width:33.33px;">
</div>
<div class="c" style="left:491.83px;width:33.33px;">
</div>
<div class="c" style="left:525.17px;width:33.33px;">
</div>
<div class="c" style="left:558.50px;width:33.33px;">
</div>
<div class="c" style="left:591.83px;width:33.33px;">
</div>
<div class="c" style="left:625.17px;width:33.33px;">
</div>
<div class="c" style="left:658.50px;width:33.33px;">
</div>
<div class="c" style="left:691.83px;width:33.33px;">
</div>
<div class="c" style="left:725.17px;width:33.33px;">
</div>
</div>
<div class="row" style="top:324.27px;height:11.43px;background:#c9c9c9">
<div class="c" style="left:0;width:87.20px;">
<svg class="abs" style="left:8.60px;top:4.00px" width="4.2" height="3" viewBox="0 0 4.2 3"><path d="M0 0h4.2L2.1 3z" fill="#8e8e8e"/></svg>
<div class="nm b" style="left:15.10px;line-height:11.43px;color:#343434;font-size:6.05px;">David</div>
</div>
<div class="c" style="left:87.20px;width:47.60px">
<div class="nm b" style="left:3.6px;line-height:11.43px;color:#2e2e2e;font-size:5.8px">PM</div>
</div>
<div class="c" style="left:134.80px;width:46.90px">
</div>
<div class="c" style="left:181.70px;width:28.90px">
</div>
<div class="c" style="left:210.60px;width:46.50px;border-right:none">
<div class="n b i" style="right:1.3px;line-height:11.43px;color:#2e2e2e">120,00</div>
</div>
<div class="c" style="left:258.50px;width:33.33px;">
<div class="n b" style="line-height:11.43px;color:#2e2e2e;">-104,00</div>
</div>
<div class="c" style="left:291.83px;width:33.33px;">
<div class="f" style="background:#4472c4"></div>
<div class="n b" style="line-height:11.43px;color:#fff;">52,00</div>
</div>
<div class="c" style="left:325.17px;width:33.33px;">
<div class="f" style="background:#a5c63b"></div>
<div class="n b" style="line-height:11.43px;color:#fff;">4,00</div>
</div>
<div class="c" style="left:358.50px;width:33.33px;">
<div class="f" style="background:#4472c4"></div>
<div class="n b" style="line-height:11.43px;color:#fff;">144,00</div>
</div>
<div class="c" style="left:391.83px;width:33.33px;">
<div class="f" style="background:#4472c4"></div>
<div class="n b" style="line-height:11.43px;color:#fff;">128,00</div>
</div>
<div class="c" style="left:425.17px;width:33.33px;">
<div class="f" style="background:#4472c4"></div>
<div class="n b" style="line-height:11.43px;color:#fff;">56,00</div>
</div>
<div class="c" style="left:458.50px;width:33.33px;">
<div class="f" style="background:#4472c4"></div>
<div class="n b" style="line-height:11.43px;color:#fff;">160,00</div>
</div>
<div class="c" style="left:491.83px;width:33.33px;">
<div class="f" style="background:#4472c4"></div>
<div class="n b" style="line-height:11.43px;color:#fff;">144,00</div>
</div>
<div class="c" style="left:525.17px;width:33.33px;">
<div class="f" style="background:#4472c4"></div>
<div class="n b" style="line-height:11.43px;color:#fff;">144,00</div>
</div>
<div class="c" style="left:558.50px;width:33.33px;">
<div class="f" style="background:#4472c4"></div>
<div class="n b" style="line-height:11.43px;color:#fff;">152,00</div>
</div>
<div class="c" style="left:591.83px;width:33.33px;">
<div class="f" style="background:#4472c4"></div>
<div class="n b" style="line-height:11.43px;color:#fff;">136,00</div>
</div>
<div class="c" style="left:625.17px;width:33.33px;">
<div class="f" style="background:#4472c4"></div>
<div class="n b" style="line-height:11.43px;color:#fff;">120,00</div>
</div>
<div class="c" style="left:658.50px;width:33.33px;">
<div class="f" style="background:#4472c4"></div>
<div class="n b" style="line-height:11.43px;color:#fff;">168,00</div>
</div>
<div class="c" style="left:691.83px;width:33.33px;">
<div class="f" style="background:#4472c4"></div>
<div class="n b" style="line-height:11.43px;color:#fff;">160,00</div>
</div>
<div class="c" style="left:725.17px;width:33.33px;">
<div class="f" style="background:#4472c4"></div>
</div>
</div>
<div class="row w" style="top:335.70px;height:11.43px;background:#ffffff">
<div class="c" style="left:0;width:87.20px;">
<div class="nm i" style="left:19.90px;line-height:11.43px;color:#a6a6a6;font-size:5.6px;">Capacity</div>
</div>
<div class="c" style="left:87.20px;width:47.60px">
</div>
<div class="c" style="left:134.80px;width:46.90px">
</div>
<div class="c" style="left:181.70px;width:28.90px">
</div>
<div class="c" style="left:210.60px;width:46.50px;border-right:none">
<div class="n i" style="right:1.3px;line-height:11.43px;color:#a2a2a2">3.984,00</div>
</div>
<div class="c" style="left:258.50px;width:33.33px;">
</div>
<div class="c" style="left:291.83px;width:33.33px;">
<div class="n i" style="line-height:11.43px;color:#a6a6a6;">168,00</div>
</div>
<div class="c" style="left:325.17px;width:33.33px;">
<div class="n i" style="line-height:11.43px;color:#a6a6a6;">160,00</div>
</div>
<div class="c" style="left:358.50px;width:33.33px;">
<div class="n i" style="line-height:11.43px;color:#a6a6a6;">168,00</div>
</div>
<div class="c" style="left:391.83px;width:33.33px;">
<div class="n i" style="line-height:11.43px;color:#a6a6a6;">152,00</div>
</div>
<div class="c" style="left:425.17px;width:33.33px;">
<div class="n i" style="line-height:11.43px;color:#a6a6a6;">160,00</div>
</div>
<div class="c" style="left:458.50px;width:33.33px;">
<div class="n i" style="line-height:11.43px;color:#a6a6a6;">184,00</div>
</div>
<div class="c" style="left:491.83px;width:33.33px;">
<div class="n i" style="line-height:11.43px;color:#a6a6a6;">168,00</div>
</div>
<div class="c" style="left:525.17px;width:33.33px;">
<div class="n i" style="line-height:11.43px;color:#a6a6a6;">168,00</div>
</div>
<div class="c" style="left:558.50px;width:33.33px;">
<div class="n i" style="line-height:11.43px;color:#a6a6a6;">176,00</div>
</div>
<div class="c" style="left:591.83px;width:33.33px;">
<div class="n i" style="line-height:11.43px;color:#a6a6a6;">160,00</div>
</div>
<div class="c" style="left:625.17px;width:33.33px;">
<div class="n i" style="line-height:11.43px;color:#a6a6a6;">144,00</div>
</div>
<div class="c" style="left:658.50px;width:33.33px;">
<div class="n i" style="line-height:11.43px;color:#a6a6a6;">168,00</div>
</div>
<div class="c" style="left:691.83px;width:33.33px;">
<div class="n i" style="line-height:11.43px;color:#a6a6a6;">160,00</div>
</div>
<div class="c" style="left:725.17px;width:33.33px;">
</div>
</div>
</div>
<div class="abs" style="left:340.2px;top:140.5px;width:1px;height:1px;background:#e77a90"></div>
<div class="abs" style="left:418.3px;top:100.2px;width:1px;height:383.5px;background:#d2d2d2"></div>
<div class="abs" style="left:419.2px;top:100.2px;width:1px;height:383.5px;background:#8c8c8c"></div>
<div class="abs" style="left:893px;top:130px;width:7px;height:347.2px;background:#fff"></div>
<svg class="abs" style="left:894.60px;top:134.60px;" width="4.8" height="3" viewBox="0 0 4.8 3"><path d="M0 3h4.8L2.4 0z" fill="#666"/></svg>
<div class="abs" style="left:894.5px;top:143.2px;width:4.3px;height:168.4px;border-radius:2px;background:#7b7b7b"></div>
<svg class="abs" style="left:894.00px;top:470.00px;" width="4.8" height="3" viewBox="0 0 4.8 3"><path d="M0 0h4.8L2.4 3z" fill="#666"/></svg>
<div class="abs" style="left:159.2px;top:477.2px;width:740.4px;height:6.5px;background:#fbfbfb;border-radius:0 0 4px 0"></div>
<svg class="abs" style="left:164.20px;top:479.50px;" width="3" height="4.4" viewBox="0 0 3 4.4"><path d="M3 0v4.4L0 2.2z" fill="#666"/></svg>
<div class="abs" style="left:171.8px;top:479.6px;width:197px;height:3.9px;border-radius:2px;background:#7b7b7b"></div>
<svg class="abs" style="left:411.40px;top:479.50px;" width="3" height="4.4" viewBox="0 0 3 4.4"><path d="M0 0v4.4L3 2.2z" fill="#666"/></svg>
<svg class="abs" style="left:424.80px;top:479.50px;" width="3" height="4.4" viewBox="0 0 3 4.4"><path d="M3 0v4.4L0 2.2z" fill="#666"/></svg>
<div class="abs" style="left:432.2px;top:479.6px;width:265px;height:3.9px;border-radius:2px;background:#7b7b7b"></div>
<svg class="abs" style="left:884.80px;top:479.50px;" width="3" height="4.4" viewBox="0 0 3 4.4"><path d="M0 0v4.4L3 2.2z" fill="#666"/></svg>
</div></div>
</body></html>
